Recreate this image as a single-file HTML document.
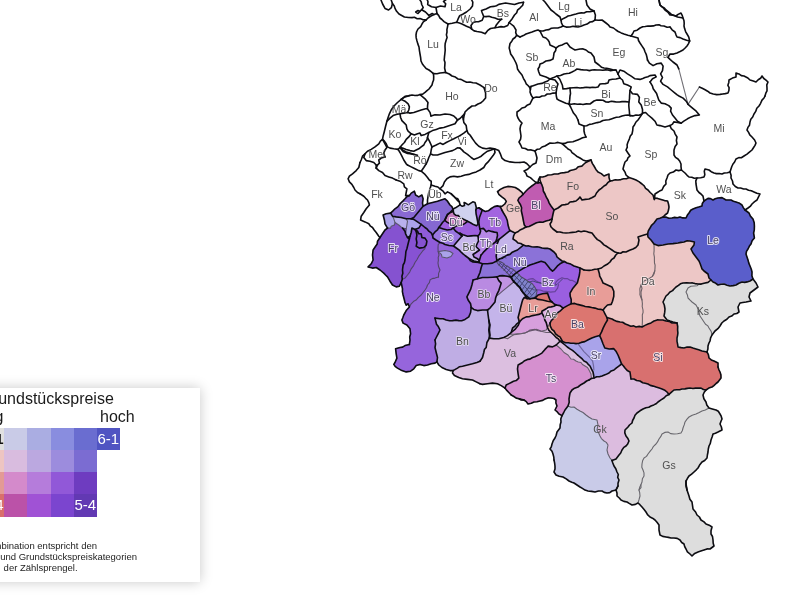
<!DOCTYPE html>
<html lang="de">
<head>
<meta charset="utf-8">
<title>Einkommen und Grundstückspreise</title>
<style>
html,body{margin:0;padding:0;background:#fff;}
body{width:800px;height:600px;overflow:hidden;position:relative;font-family:"Liberation Sans",Arial,sans-serif;}
#map{position:absolute;left:0;top:0;width:800px;height:600px;overflow:hidden;filter:blur(0.4px);}
#legend{position:absolute;left:-120px;top:388px;width:320px;height:194px;background:#fff;box-shadow:0 0 12px rgba(0,0,0,0.22);}
#legend .ttl{position:absolute;right:86.2px;top:0.7px;font-size:16px;line-height:20px;color:#1a1a1a;white-space:nowrap;}
#legend .lo{position:absolute;right:196.6px;top:19.4px;font-size:16px;line-height:20px;color:#1a1a1a;white-space:nowrap;}
#legend .hi{position:absolute;left:220px;top:19.4px;font-size:16px;line-height:20px;color:#1a1a1a;white-space:nowrap;}
#grid{position:absolute;left:101.3px;top:39.7px;}
#grid div{position:absolute;width:23.3px;height:22.4px;}
#grid span{position:absolute;font-size:15px;line-height:22px;width:23.1px;text-align:center;white-space:nowrap;}
#legend .note{position:absolute;left:0;top:150px;width:320px;font-size:9.5px;line-height:11.3px;color:#1c1c1c;white-space:nowrap;}
#legend .note div{position:absolute;white-space:nowrap;}
</style>
</head>
<body>
<div id="map">
<svg width="800" height="600" viewBox="0 0 800 600" style="position:absolute;left:0;top:0">
<g stroke-linejoin="round" stroke-width="0.6">
<path d="M663.0,217.0 659.9,218.3 657.0,219.0 654.0,223.0 651.5,225.3 650.0,228.0 648.3,230.9 647.6,234.0 648.0,237.0 651.0,240.0 654.0,244.0 658.0,245.6 663.0,245.0 668.0,244.0 673.0,243.6 678.0,243.0 681.0,242.4 684.0,242.0 687.1,240.8 690.0,241.0 694.4,242.0 694.0,245.0 691.0,249.0 693.0,253.0 696.0,257.0 699.0,261.0 700.1,263.5 701.0,266.0 702.0,268.9 704.0,271.0 708.0,274.0 709.0,278.0 711.0,280.0 713.0,282.0 715.5,283.1 718.0,285.0 720.9,284.2 724.0,284.0 727.1,285.2 730.0,286.0 733.2,285.6 736.0,285.0 738.9,283.2 742.0,282.0 744.6,282.4 747.1,281.9 750.0,281.0 753.0,279.0 751.9,275.8 752.0,272.0 751.3,269.2 750.0,266.0 748.8,263.1 748.0,260.0 746.9,256.7 746.0,254.0 746.5,251.4 748.0,249.0 749.4,246.1 751.0,244.0 752.1,240.7 754.4,238.0 753.6,233.0 754.3,229.8 754.4,226.0 754.2,222.7 753.0,219.0 750.4,216.1 749.0,213.0 745.0,210.0 743.3,207.6 742.0,205.0 738.9,202.9 736.0,202.0 733.4,201.2 731.0,200.0 726.0,200.0 722.0,197.6 718.0,198.0 715.2,198.8 713.0,200.0 710.5,198.6 708.0,198.4 704.0,201.0 702.3,203.5 702.0,206.0 698.7,207.0 696.1,207.7 693.0,209.0 690.7,210.3 689.0,213.0 687.4,215.1 686.0,218.0 682.8,217.9 680.0,217.0 677.3,217.8 674.6,217.4 672.0,218.0 668.9,218.3 665.8,217.1 663.0,217.0Z" fill="#5a5ecb" stroke="#5a5ecb" fill-rule="evenodd"/>
<path d="M707.0,352.0 702.0,351.0 698.7,349.8 696.0,349.0 692.9,348.1 690.0,347.0 687.1,347.1 684.0,348.0 681.2,347.6 678.0,347.0 677.6,344.1 677.0,341.3 677.0,338.0 677.6,335.3 677.9,333.0 677.6,330.0 677.7,326.5 677.0,323.0 672.0,323.0 669.1,321.4 666.0,321.0 662.9,320.0 660.0,320.0 657.2,319.9 654.0,321.0 651.0,322.9 648.0,324.0 645.0,325.4 642.0,327.0 639.2,326.4 636.0,327.0 633.7,325.9 630.8,326.2 628.0,325.0 625.4,324.0 622.6,322.3 620.0,322.0 617.0,321.4 614.2,320.3 612.0,319.0 606.9,317.5 607.5,320.0 605.2,323.8 603.1,328.1 601.6,331.9 599.6,335.6 601.4,339.4 603.0,343.8 604.8,348.0 609.2,349.0 613.6,348.6 616.2,351.6 618.0,355.0 619.8,359.4 621.6,364.0 623.3,365.7 625.0,368.0 627.2,370.5 630.0,372.0 630.5,375.6 631.0,379.0 633.9,379.0 636.7,380.5 640.0,381.0 642.7,382.7 645.2,383.3 648.0,384.0 650.3,385.4 653.2,386.1 656.0,387.0 659.3,388.1 662.0,389.0 664.9,390.3 667.0,392.0 669.0,394.4 671.5,392.1 674.0,390.0 676.7,389.7 679.7,389.7 682.0,389.0 684.9,388.9 687.3,388.4 690.0,388.0 693.0,388.5 695.4,388.1 698.0,388.0 701.1,388.1 703.4,389.5 706.0,390.0 708.8,388.1 712.0,387.0 713.9,385.6 716.1,383.5 718.0,382.0 721.0,378.0 720.9,374.8 720.0,372.0 719.0,370.0 718.0,367.0 718.0,363.0 714.0,361.0 711.3,359.9 709.0,358.0 708.4,354.6 707.0,352.0Z" fill="#d8706f" stroke="#d8706f" fill-rule="evenodd"/>
<path d="M563.1,308.1 560.0,311.2 557.8,312.6 556.2,315.0 553.1,318.8 551.3,320.5 550.0,323.1 550.3,326.2 551.9,329.4 554.0,331.0 555.6,333.8 557.8,335.7 560.0,336.9 562.5,341.5 565.5,342.8 568.4,342.8 570.8,343.2 573.6,343.2 576.0,343.6 579.0,343.3 581.2,342.4 584.8,341.6 588.2,339.8 591.8,338.0 595.2,336.8 599.6,335.6 601.6,331.9 603.1,328.1 605.2,323.8 607.5,320.0 606.9,317.5 605.0,313.8 603.1,310.0 601.2,309.4 598.3,309.3 595.0,308.1 591.7,307.5 588.8,306.9 585.2,306.5 582.5,305.6 577.5,304.4 574.7,303.4 571.2,303.8 567.5,305.6 563.1,308.1Z" fill="#dc7670" stroke="#dc7670" fill-rule="evenodd"/>
<path d="M584.0,270.0 580.0,268.0 579.8,271.9 579.4,275.0 578.1,280.0 577.4,282.7 575.6,285.0 572.5,288.8 570.0,293.1 570.2,296.2 571.2,299.4 571.2,303.8 574.7,303.4 577.5,304.4 582.5,305.6 585.2,306.5 588.8,306.9 591.7,307.5 595.0,308.1 598.3,309.3 601.2,309.4 603.1,310.0 605.0,307.5 607.5,305.0 611.2,304.4 612.5,301.2 613.8,296.2 613.8,291.2 611.9,286.9 607.5,285.0 603.1,283.1 601.2,278.8 599.7,276.2 599.4,273.8 598.0,269.0 594.8,269.3 592.0,270.0 589.2,270.4 586.6,270.2 584.0,270.0Z" fill="#e89d98" stroke="#e89d98" fill-rule="evenodd"/>
<path d="M654.5,198.1 654.4,199.4 654.0,198.0 653.0,195.0 650.2,192.5 648.0,190.0 645.6,188.3 644.2,185.8 642.0,184.0 638.9,181.6 636.0,180.0 632.8,178.7 629.0,177.6 626.5,178.7 623.6,178.7 620.9,179.6 618.0,180.0 615.4,179.7 612.6,180.6 610.0,181.0 608.1,182.3 606.2,184.7 604.0,186.0 601.4,188.4 599.0,190.0 596.5,193.0 595.0,196.0 591.8,197.7 589.0,199.0 585.3,199.4 582.0,200.0 580.0,197.0 578.2,199.2 576.0,201.0 573.1,201.6 570.0,202.0 568.0,204.0 565.1,204.6 562.0,205.0 558.0,208.0 554.0,210.0 553.0,214.0 552.0,219.0 551.5,221.8 550.0,224.0 550.9,226.8 553.0,229.0 557.0,232.0 560.0,232.0 563.0,232.8 566.0,233.0 569.3,232.8 572.5,232.4 576.0,232.0 578.4,231.1 581.1,231.8 584.0,231.0 586.7,231.5 589.3,232.4 592.0,233.0 595.0,237.0 597.4,239.6 600.0,241.0 601.8,242.6 603.9,244.9 606.0,246.0 609.2,248.1 612.0,250.0 615.0,252.1 618.0,253.0 620.7,253.2 623.0,251.8 626.0,252.0 629.6,250.2 633.0,249.0 635.8,247.5 638.0,245.0 639.0,240.0 638.0,237.0 640.9,235.9 644.0,235.0 647.6,234.0 648.3,230.9 650.0,228.0 651.5,225.3 654.0,223.0 657.0,219.0 659.9,218.3 663.0,217.0 665.0,215.0 667.6,213.0 668.5,210.1 669.0,207.0 668.5,204.0 667.6,201.0 664.5,200.6 661.0,199.4 657.6,198.4 654.5,198.1Z" fill="#edc7c6" stroke="#edc7c6" fill-rule="evenodd"/>
<path d="M591.0,160.0 588.3,161.3 585.9,162.4 584.0,164.0 581.8,166.1 578.4,166.7 576.0,169.0 573.5,169.8 570.3,170.5 568.0,172.0 564.4,172.6 560.9,173.0 558.0,174.0 554.3,174.0 551.6,174.8 548.0,175.0 545.4,176.3 542.8,177.0 540.0,177.0 539.9,180.0 541.0,183.0 542.0,185.2 543.0,188.0 543.3,191.0 545.0,194.0 546.3,197.2 548.0,200.0 549.2,203.1 551.0,206.0 554.0,210.0 558.0,208.0 562.0,205.0 565.1,204.6 568.0,204.0 570.0,202.0 573.1,201.6 576.0,201.0 578.2,199.2 580.0,197.0 582.0,200.0 585.3,199.4 589.0,199.0 591.8,197.7 595.0,196.0 596.5,193.0 599.0,190.0 601.4,188.4 604.0,186.0 606.2,184.7 608.1,182.3 610.0,181.0 609.0,177.5 609.0,174.0 606.3,175.0 604.0,176.0 601.3,173.6 598.0,172.0 595.9,169.4 594.0,166.0 592.3,163.4 591.0,160.0Z" fill="#edc7c6" stroke="#edc7c6" fill-rule="evenodd"/>
<path d="M552.0,219.0 549.0,220.3 546.0,221.0 542.8,222.2 540.0,222.0 536.5,222.7 534.0,224.0 531.6,225.2 529.1,226.5 526.0,227.0 522.8,228.8 520.0,230.0 517.8,231.8 515.0,233.0 513.6,235.8 513.0,239.0 515.9,240.9 518.0,243.0 520.8,243.5 523.4,245.1 526.0,246.0 528.8,245.9 531.6,246.7 534.0,247.0 537.1,246.7 539.6,247.2 542.0,248.0 544.9,248.4 547.3,248.2 550.0,249.0 554.0,252.0 556.1,254.4 557.0,257.0 559.3,258.9 562.0,261.0 564.4,261.5 567.0,263.0 570.7,264.1 574.0,266.0 577.2,267.0 580.0,268.0 584.0,270.0 586.6,270.2 589.2,270.4 592.0,270.0 594.8,269.3 598.0,269.0 601.5,268.0 604.0,266.0 607.2,264.3 610.0,262.0 611.5,259.7 614.0,258.0 615.8,255.0 618.0,253.0 615.0,252.1 612.0,250.0 609.2,248.1 606.0,246.0 603.9,244.9 601.8,242.6 600.0,241.0 597.4,239.6 595.0,237.0 592.0,233.0 589.3,232.4 586.7,231.5 584.0,231.0 581.1,231.8 578.4,231.1 576.0,232.0 572.5,232.4 569.3,232.8 566.0,233.0 563.0,232.8 560.0,232.0 557.0,232.0 553.0,229.0 550.9,226.8 550.0,224.0 551.5,221.8 552.0,219.0Z" fill="#edc7c6" stroke="#edc7c6" fill-rule="evenodd"/>
<path d="M515.0,233.0 517.8,231.8 520.0,230.0 522.8,228.8 526.0,227.0 524.3,225.0 523.5,221.3 522.8,217.5 522.0,213.8 521.3,210.8 521.6,207.8 520.5,204.8 519.0,202.5 517.9,200.3 519.0,198.0 521.3,196.1 523.1,194.3 522.0,192.4 519.0,189.8 515.3,187.5 511.5,186.8 507.8,186.4 504.0,187.5 500.3,189.4 497.6,191.6 498.8,194.3 501.8,196.9 504.8,199.1 506.3,201.4 504.8,204.0 502.5,205.9 500.3,206.6 501.8,210.0 503.5,213.0 505.8,216.8 507.3,220.5 508.0,225.0 509.1,228.8 509.9,230.6 512.5,231.8 515.0,233.0Z" fill="#edc7c6" stroke="#edc7c6" fill-rule="evenodd"/>
<path d="M647.6,234.0 644.0,235.0 640.9,235.9 638.0,237.0 639.0,240.0 638.0,245.0 635.8,247.5 633.0,249.0 629.6,250.2 626.0,252.0 623.0,251.8 620.7,253.2 618.0,253.0 615.8,255.0 614.0,258.0 611.5,259.7 610.0,262.0 607.2,264.3 604.0,266.0 601.5,268.0 598.0,269.0 599.4,273.8 599.7,276.2 601.2,278.8 603.1,283.1 607.5,285.0 611.9,286.9 613.8,291.2 613.8,296.2 612.5,301.2 611.2,304.4 607.5,305.0 605.0,307.5 603.1,310.0 605.0,313.8 606.9,317.5 612.0,319.0 614.2,320.3 617.0,321.4 620.0,322.0 622.6,322.3 625.4,324.0 628.0,325.0 630.8,326.2 633.7,325.9 636.0,327.0 639.2,326.4 642.0,327.0 642.3,323.9 642.4,321.3 642.4,318.0 642.3,315.0 643.1,312.4 643.0,310.0 642.2,306.5 642.4,303.6 642.0,300.0 640.9,297.6 639.9,294.6 640.0,292.0 639.8,288.8 641.0,285.0 644.0,281.0 647.1,279.8 650.0,278.0 652.4,276.4 654.8,270.8 655.0,268.0 655.1,265.2 654.5,263.0 654.4,260.0 654.4,257.2 653.8,253.8 654.1,250.9 654.1,248.0 654.0,244.0 651.0,240.0 648.0,237.0 647.6,234.0Z" fill="#edc7c6" stroke="#edc7c6" fill-rule="evenodd"/>
<path d="M711.0,280.0 709.0,278.0 708.0,274.0 704.0,271.0 702.0,268.9 701.0,266.0 700.1,263.5 699.0,261.0 696.0,257.0 693.0,253.0 691.0,249.0 694.0,245.0 694.4,242.0 690.0,241.0 687.1,240.8 684.0,242.0 681.0,242.4 678.0,243.0 673.0,243.6 668.0,244.0 663.0,245.0 658.0,245.6 654.0,244.0 654.1,248.0 654.1,250.9 653.8,253.8 654.4,257.2 654.4,260.0 654.5,263.0 655.1,265.2 655.0,268.0 654.8,270.8 654.0,274.0 652.4,276.4 650.0,278.0 647.1,279.8 644.0,281.0 641.0,285.0 642.0,288.3 641.0,292.0 641.1,294.8 641.5,297.3 642.0,300.0 642.4,303.6 642.2,306.5 643.0,310.0 643.1,312.4 642.3,315.0 642.4,318.0 642.4,321.3 642.3,323.9 642.0,327.0 645.0,325.4 648.0,324.0 651.0,322.9 654.0,321.0 657.2,319.9 660.0,320.0 662.9,320.0 666.0,321.0 669.1,321.4 672.0,323.0 677.0,323.0 673.0,322.0 670.0,321.1 667.0,320.0 664.0,316.0 664.7,312.4 665.0,309.0 664.3,305.0 663.0,302.0 664.5,299.0 666.0,296.0 668.2,294.1 670.0,292.0 672.6,290.6 674.0,289.0 676.0,287.0 678.5,285.4 680.4,283.8 683.0,283.0 686.7,282.7 690.0,283.0 692.5,282.9 695.0,283.6 698.0,284.0 701.1,284.1 704.0,283.2 708.0,282.4 711.0,280.0Z" fill="#edc7c6" stroke="#edc7c6" fill-rule="evenodd"/>
<path d="M538.0,183.0 536.7,182.5 534.8,183.8 531.8,186.0 528.8,188.3 525.8,191.3 523.1,194.3 521.3,196.1 519.0,198.0 517.9,200.3 519.0,202.5 520.5,204.8 521.6,207.8 521.3,210.8 522.0,213.8 522.8,217.5 523.5,221.3 524.3,225.0 526.0,227.0 529.1,226.5 531.6,225.2 534.0,224.0 536.5,222.7 540.0,222.0 542.8,222.2 546.0,221.0 549.0,220.3 552.0,219.0 553.0,214.0 554.0,210.0 551.0,206.0 549.2,203.1 548.0,200.0 546.3,197.2 545.0,194.0 543.3,191.0 543.0,188.0 542.0,185.2 541.0,183.0 538.1,182.5 538.0,183.0Z" fill="#c05cb1" stroke="#c05cb1" fill-rule="evenodd"/>
<path d="M753.0,279.0 750.0,281.0 747.1,281.9 744.6,282.4 742.0,282.0 738.9,283.2 736.0,285.0 733.2,285.6 730.0,286.0 727.1,285.2 724.0,284.0 720.9,284.2 718.0,285.0 715.5,283.1 713.0,282.0 711.0,280.0 708.0,282.4 704.0,283.2 701.1,284.1 699.0,284.2 697.2,285.7 694.0,286.0 690.9,286.3 688.0,288.0 686.0,292.0 687.4,294.9 688.0,298.0 690.1,300.2 692.0,302.0 696.0,305.0 697.4,307.6 699.0,310.0 699.1,312.9 700.0,316.0 702.2,319.2 704.0,322.0 705.5,324.3 707.9,325.9 709.0,328.0 711.2,331.4 712.0,335.0 715.0,331.0 717.9,328.7 720.0,326.0 721.8,323.0 724.0,321.0 726.9,319.3 729.0,317.0 731.7,316.1 734.0,314.0 736.8,313.5 739.0,312.0 738.0,307.0 740.0,303.0 742.8,302.5 746.0,302.0 751.0,301.0 749.0,297.0 750.0,293.0 754.0,290.0 758.0,287.0 756.0,283.0 753.0,279.0Z" fill="#dddddd" stroke="#dddddd" fill-rule="evenodd"/>
<path d="M753.0,279.0 750.0,281.0 747.1,281.9 744.6,282.4 742.0,282.0 738.9,283.2 736.0,285.0 733.2,285.6 730.0,286.0 727.1,285.2 724.0,284.0 720.9,284.2 718.0,285.0 715.5,283.1 713.0,282.0 711.0,280.0 708.0,282.4 704.0,283.2 701.1,284.1 699.0,284.2 697.2,285.7 694.0,286.0 690.9,286.3 688.0,288.0 686.0,292.0 687.4,294.9 688.0,298.0 690.1,300.2 692.0,302.0 696.0,305.0 697.4,307.6 699.0,310.0 699.1,312.9 700.0,316.0 702.2,319.2 704.0,322.0 705.5,324.3 707.9,325.9 709.0,328.0 711.2,331.4 712.0,335.0 715.0,331.0 717.9,328.7 720.0,326.0 721.8,323.0 724.0,321.0 726.9,319.3 729.0,317.0 731.7,316.1 734.0,314.0 736.8,313.5 739.0,312.0 738.0,307.0 740.0,303.0 742.8,302.5 746.0,302.0 751.0,301.0 749.0,297.0 750.0,293.0 754.0,290.0 758.0,287.0 756.0,283.0 753.0,279.0Z" fill="#dddddd" stroke="#dddddd" fill-rule="evenodd"/>
<path d="M686.0,481.0 687.5,478.3 689.0,476.0 691.6,474.2 694.0,472.0 696.3,469.8 698.0,468.0 699.6,465.1 702.0,462.0 704.7,460.5 707.0,458.0 707.4,455.0 708.0,452.0 708.3,449.0 709.0,446.0 710.3,443.4 711.0,440.0 712.2,436.8 713.0,434.0 715.4,433.2 718.0,432.0 722.0,430.0 721.4,427.0 720.0,424.0 720.9,421.5 722.0,419.0 721.2,416.2 720.0,414.0 718.3,411.3 716.0,410.0 712.3,408.9 709.0,408.0 705.3,410.0 702.0,411.0 699.2,412.5 696.0,414.0 692.2,415.2 689.0,417.0 687.0,419.1 685.0,422.0 684.2,424.9 683.0,428.0 682.4,430.5 681.0,433.0 677.5,433.8 674.0,434.0 670.7,433.6 668.0,432.0 664.8,432.4 662.0,434.0 660.7,436.7 659.0,439.0 657.5,441.9 656.0,444.0 653.5,446.3 652.0,449.0 650.2,451.2 648.0,454.0 646.5,456.4 644.0,458.0 642.6,460.8 642.0,464.0 641.8,467.2 643.0,470.0 644.0,472.9 644.0,476.0 642.4,478.7 642.0,482.0 640.9,484.7 641.0,487.6 639.0,490.0 639.7,492.7 640.0,496.0 639.0,499.7 638.0,503.0 639.9,504.7 642.0,507.0 644.1,509.5 646.0,512.0 647.5,514.6 650.0,517.0 652.5,518.2 655.0,520.0 657.0,522.3 659.0,525.0 659.0,530.0 660.0,535.0 662.7,536.4 666.0,537.0 668.4,537.4 671.0,538.0 674.0,538.0 677.2,538.4 680.0,540.0 681.7,542.5 684.0,544.0 684.7,546.6 686.0,549.0 687.4,551.8 690.0,554.0 692.0,556.0 694.7,553.4 698.0,552.0 700.8,551.1 704.0,550.0 707.0,548.9 710.0,549.0 714.0,546.0 713.2,543.3 713.0,540.0 712.5,536.5 711.0,534.0 711.0,530.8 712.0,527.0 709.2,525.2 706.0,524.0 704.0,521.9 701.0,520.0 699.4,517.0 697.0,515.0 695.6,512.0 693.0,509.0 692.5,505.3 692.0,502.0 689.9,499.2 689.0,496.0 688.0,492.9 687.0,490.0 686.0,486.0 686.0,484.0 686.0,481.0Z" fill="#dddddd" stroke="#dddddd" fill-rule="evenodd"/>
<path d="M706.0,390.0 703.4,389.5 701.1,388.1 698.0,388.0 695.4,388.1 693.0,388.5 690.0,388.0 687.3,388.4 684.9,388.9 682.0,389.0 679.7,389.7 676.7,389.7 674.0,390.0 671.5,392.1 669.0,394.4 666.2,395.7 664.0,398.0 661.0,399.9 658.0,402.0 656.0,403.8 653.8,404.9 651.0,406.0 648.8,407.3 645.9,407.8 643.0,409.0 640.0,410.8 637.0,413.0 635.0,415.3 634.0,418.0 632.6,420.5 632.0,423.0 629.5,425.0 628.0,427.0 625.0,430.0 624.8,432.9 626.0,436.0 627.7,438.2 629.0,441.0 627.7,443.9 626.0,446.0 623.8,447.4 622.0,450.0 620.7,453.0 619.0,455.0 616.0,459.0 612.0,460.4 612.8,463.0 614.0,466.0 615.8,468.8 617.0,472.0 618.3,474.5 617.7,477.4 619.0,480.0 618.0,483.2 618.0,486.0 616.0,490.0 617.0,493.1 617.0,496.0 619.3,498.0 621.0,500.0 623.9,501.4 627.0,502.0 629.2,503.4 632.0,505.0 635.4,504.4 638.0,503.0 639.0,499.7 640.0,496.0 639.7,492.7 639.0,490.0 639.7,487.3 640.9,484.7 642.0,482.0 642.4,478.7 644.0,476.0 644.0,472.9 643.0,470.0 641.8,467.2 642.0,464.0 642.6,460.8 644.0,458.0 646.5,456.4 648.0,454.0 650.2,451.2 652.0,449.0 653.5,446.3 656.0,444.0 657.5,441.9 659.0,439.0 660.7,436.7 662.0,434.0 664.8,432.4 668.0,432.0 670.7,433.6 674.0,434.0 677.5,433.8 681.0,433.0 682.4,430.5 683.0,428.0 684.2,424.9 685.0,422.0 687.0,419.1 689.0,417.0 692.2,415.2 696.0,414.0 699.2,412.5 702.0,411.0 705.3,410.0 709.0,408.0 706.8,405.0 706.0,402.0 703.9,398.8 703.0,395.0 704.2,392.3 706.0,390.0Z" fill="#dddddd" stroke="#dddddd" fill-rule="evenodd"/>
<path d="M631.0,379.0 630.5,375.6 630.0,372.0 627.2,370.5 625.0,368.0 623.3,365.7 621.6,364.0 618.5,366.3 616.1,368.1 614.0,370.0 611.2,370.9 609.0,373.0 605.6,374.6 602.0,376.0 599.3,376.8 596.7,376.8 594.0,378.0 591.4,378.5 589.0,380.0 586.6,381.0 584.0,383.0 580.9,384.7 578.0,387.0 574.6,388.2 572.0,390.0 570.0,393.0 569.5,395.9 569.0,399.0 569.2,402.3 568.0,406.0 570.9,407.2 574.0,407.0 577.0,409.3 580.0,411.0 583.0,412.5 586.0,415.0 588.7,417.0 592.0,419.0 597.0,420.0 598.0,425.0 597.0,430.0 598.8,433.2 600.0,436.0 601.4,438.6 604.0,441.0 606.3,442.4 608.0,445.0 607.0,450.0 608.0,454.0 610.0,458.0 612.0,460.4 616.0,459.0 619.0,455.0 620.7,453.0 622.0,450.0 623.8,447.4 626.0,446.0 627.7,443.9 629.0,441.0 627.7,438.2 626.0,436.0 624.8,432.9 625.0,430.0 628.0,427.0 629.5,425.0 632.0,423.0 632.6,420.5 634.0,418.0 635.0,415.3 637.0,413.0 640.0,410.8 643.0,409.0 645.9,407.8 648.8,407.3 651.0,406.0 653.8,404.9 656.0,403.8 658.0,402.0 661.0,399.9 664.0,398.0 666.2,395.7 669.0,394.4 667.0,392.0 664.9,390.3 662.0,389.0 659.3,388.1 656.0,387.0 653.2,386.1 650.3,385.4 648.0,384.0 645.2,383.3 642.7,382.7 640.0,381.0 636.7,380.5 633.9,379.0 631.0,379.0Z" fill="#dcbcdf" stroke="#dcbcdf" fill-rule="evenodd"/>
<path d="M618.0,486.0 618.0,483.2 619.0,480.0 617.7,477.4 618.3,474.5 617.0,472.0 615.8,468.8 614.0,466.0 612.8,463.0 612.0,460.4 610.0,458.0 608.0,454.0 607.0,450.0 608.0,445.0 606.3,442.4 604.0,441.0 601.4,438.6 600.0,436.0 598.8,433.2 597.0,430.0 598.0,425.0 597.0,420.0 592.0,419.0 588.7,417.0 586.0,415.0 583.0,412.5 580.0,411.0 577.0,409.3 574.0,407.0 570.9,407.2 568.0,406.0 565.0,410.0 563.5,413.0 562.0,415.6 560.8,419.0 561.0,422.0 560.2,424.8 560.0,428.0 557.0,432.0 556.2,435.2 555.0,438.0 553.3,440.5 552.0,444.0 551.3,446.9 550.0,449.0 552.0,451.3 553.0,454.0 553.8,457.1 554.0,460.0 554.6,462.8 555.0,466.0 555.0,468.9 554.0,472.0 556.0,475.0 559.2,476.3 563.0,477.0 566.2,478.9 569.0,481.0 571.8,482.2 574.0,483.0 577.0,485.0 580.0,487.0 582.4,488.4 585.0,490.1 588.0,491.0 591.6,491.4 595.0,492.0 598.5,491.0 602.0,491.0 604.2,492.4 607.0,493.0 609.8,492.6 612.0,491.0 616.0,490.0 618.0,486.0Z" fill="#c9cbe8" stroke="#c9cbe8" fill-rule="evenodd"/>
<path d="M519.1,398.8 524.0,400.0 526.3,401.6 528.0,404.0 531.3,403.3 534.0,402.0 537.0,401.8 540.0,401.0 542.7,400.4 545.0,399.0 547.9,397.9 551.0,398.0 554.0,398.5 556.0,400.0 555.9,403.0 557.0,406.0 555.0,410.0 557.3,411.9 559.0,414.0 562.0,415.6 563.5,413.0 565.0,410.0 568.0,406.0 569.2,402.3 569.0,399.0 569.5,395.9 570.0,393.0 572.0,390.0 574.6,388.2 578.0,387.0 580.9,384.7 584.0,383.0 586.6,381.0 589.0,380.0 591.4,378.5 591.0,374.0 589.0,370.0 587.5,367.5 585.0,366.0 582.5,364.5 581.0,362.5 578.2,362.0 576.0,361.0 573.5,359.3 571.0,359.0 568.0,355.0 564.0,352.5 561.0,349.0 556.2,345.0 552.5,346.9 550.2,346.5 548.1,346.2 545.0,349.4 541.9,353.1 537.5,355.6 534.9,356.7 532.5,357.5 530.0,359.1 527.5,359.4 524.6,360.7 522.5,362.5 518.1,365.0 517.5,368.8 518.1,373.8 518.8,378.1 516.2,380.6 513.5,381.3 511.2,382.5 509.0,383.6 506.2,385.0 505.0,388.1 506.8,390.4 508.8,392.5 511.2,395.0 513.9,396.5 516.2,398.1 519.1,398.8Z" fill="#d590cf" stroke="#d590cf" fill-rule="evenodd"/>
<path d="M560.0,341.2 558.3,338.9 556.2,337.5 553.9,335.0 551.2,332.5 546.2,332.5 541.2,331.2 538.2,330.7 535.5,329.6 531.2,330.6 528.9,331.3 526.2,332.5 526.0,332.6 525.0,333.1 522.6,333.4 521.2,333.8 516.2,334.4 513.9,334.8 511.2,336.2 507.5,338.8 503.8,337.5 498.8,338.8 493.8,338.8 489.4,338.1 486.9,342.5 486.2,347.5 484.4,349.6 483.8,352.5 482.5,357.5 480.0,361.3 476.9,362.5 472.5,363.8 467.5,365.0 462.5,366.2 459.6,366.7 457.5,368.1 453.1,370.6 452.5,373.1 454.4,375.6 458.8,377.5 462.5,378.8 467.5,379.4 472.5,380.0 476.2,381.9 480.0,383.8 482.5,384.4 487.5,383.8 492.5,383.1 497.5,383.8 501.2,385.6 505.0,388.1 506.2,385.0 509.0,383.6 511.2,382.5 513.5,381.3 516.2,380.6 518.8,378.1 518.1,373.8 517.5,368.8 518.1,365.0 522.5,362.5 524.6,360.7 527.5,359.4 530.0,359.1 532.5,357.5 534.9,356.7 537.5,355.6 541.9,353.1 545.0,349.4 548.1,346.2 550.2,346.5 552.5,346.9 556.2,345.0 560.0,341.2Z" fill="#dcbfe0" stroke="#dcbfe0" fill-rule="evenodd"/>
<path d="M435.0,318.1 436.5,324.2 438.1,326.2 440.0,330.0 438.1,333.8 436.2,337.5 435.0,340.0 435.6,343.8 435.0,347.5 436.2,352.5 437.5,357.5 436.9,361.9 438.8,365.0 441.9,367.5 446.2,369.4 450.0,370.6 453.1,370.6 457.5,368.1 459.6,366.7 462.5,366.2 467.5,365.0 472.5,363.8 476.9,362.5 480.0,361.3 482.5,357.5 483.8,352.5 484.4,349.6 486.2,347.5 486.9,342.5 489.4,338.1 489.4,335.0 488.8,330.0 489.4,325.0 488.8,320.0 488.1,315.0 487.5,310.0 482.5,310.0 477.5,310.6 473.8,309.4 471.2,307.5 470.6,312.5 468.8,316.9 465.0,319.4 461.7,320.7 458.8,320.6 455.9,320.1 452.5,320.6 449.6,320.7 446.2,320.0 443.1,318.8 440.0,318.8 435.0,318.1Z" fill="#bfade4" stroke="#bfade4" fill-rule="evenodd"/>
<path d="M524.4,297.5 527.0,298.6 525.0,295.0 523.7,293.4 523.3,293.0 521.2,290.0 519.7,287.4 519.6,287.3 517.6,285.7 516.6,284.3 513.8,281.9 510.0,285.0 506.2,288.1 502.5,291.2 499.4,293.8 496.3,296.1 495.6,298.1 495.0,301.9 492.5,305.0 490.0,308.1 487.5,310.0 488.1,315.0 488.8,320.0 490.0,325.0 489.4,330.0 490.0,335.0 489.4,338.1 493.8,338.8 498.8,338.8 503.8,337.5 507.5,335.6 509.3,334.1 511.2,332.5 512.6,328.0 515.0,326.2 516.8,323.8 519.4,321.9 518.1,317.5 519.4,312.5 520.6,307.5 521.9,302.5 522.8,299.6 524.4,297.5Z" fill="#c4b4ea" stroke="#c4b4ea" fill-rule="evenodd"/>
<path d="M477.5,278.8 473.1,280.0 471.9,285.0 470.6,289.4 468.8,293.1 466.9,296.9 468.1,300.0 470.6,303.8 471.2,307.5 473.8,309.4 477.5,310.6 482.5,310.0 487.5,310.0 490.0,308.1 492.5,305.0 495.0,301.9 495.6,298.1 496.3,296.1 496.9,294.4 498.8,290.6 500.0,286.9 501.2,283.1 498.8,280.6 496.9,276.9 492.5,277.2 487.5,277.5 482.5,277.5 477.5,278.8Z" fill="#b98ae2" stroke="#b98ae2" fill-rule="evenodd"/>
<path d="M438.5,277.0 435.0,278.1 432.1,278.6 430.0,280.0 429.4,282.6 427.5,285.0 426.5,287.8 425.0,290.0 423.1,292.5 421.2,295.0 418.4,297.3 416.2,300.0 413.7,301.3 411.2,303.8 409.4,306.9 406.2,310.6 403.8,315.0 402.9,317.5 401.9,320.0 403.1,323.1 406.9,325.0 410.0,328.8 410.6,333.8 409.7,337.0 410.0,340.0 409.4,344.4 405.0,345.6 402.6,347.1 400.0,347.5 395.6,348.8 396.2,353.8 396.9,358.1 395.0,362.5 393.8,364.4 395.1,366.3 397.5,368.1 401.9,370.6 406.2,371.9 410.6,371.2 413.8,368.8 416.2,365.6 420.0,364.4 423.8,365.6 427.5,365.0 431.2,363.8 435.0,363.1 436.9,361.9 437.5,357.5 436.2,352.5 435.0,347.5 435.6,343.8 435.0,340.0 436.2,337.5 438.1,333.8 440.0,330.0 438.1,326.2 436.5,324.2 435.0,318.1 440.0,318.8 443.1,318.8 446.2,320.0 449.6,320.7 452.5,320.6 455.9,320.1 458.8,320.6 461.7,320.7 465.0,319.4 468.8,316.9 470.6,312.5 471.2,307.5 470.6,303.8 468.1,300.0 466.9,296.9 468.8,293.1 470.6,289.4 471.9,285.0 473.1,280.0 477.5,278.8 478.1,276.9 480.0,272.5 481.2,267.5 482.5,263.8 478.8,262.5 475.5,262.1 472.5,261.9 470.2,260.5 469.0,258.5 465.0,255.5 463.0,253.9 461.0,252.0 459.3,250.1 457.0,248.5 453.5,246.0 449.0,245.5 445.0,244.5 442.9,243.3 440.0,242.5 438.2,244.7 438.0,248.0 438.2,251.6 439.0,255.0 438.2,257.5 438.4,260.2 438.0,263.0 438.6,266.8 440.0,270.0 438.6,273.4 438.5,277.0ZM438.2,251.6 445.0,250.5 450.0,251.5 453.0,253.5 451.0,256.5 447.0,258.0 442.0,257.0 441.4,254.3 438.2,251.6Z" fill="#9665dc" stroke="#9665dc" fill-rule="evenodd"/>
<path d="M395.0,222.5 394.4,225.0 391.2,226.2 390.6,228.1 387.5,228.1 385.0,230.0 382.5,233.8 380.1,237.4 380.0,237.5 379.9,237.6 377.5,241.2 377.2,244.1 375.6,246.2 373.1,250.0 372.5,255.0 373.1,260.0 371.2,263.8 368.1,266.9 372.5,268.1 376.2,267.5 380.0,270.0 383.8,273.1 385.8,275.2 387.5,276.9 390.0,281.2 392.5,285.0 396.2,286.9 399.4,286.2 401.3,282.5 402.3,279.2 401.9,276.2 402.8,273.3 402.5,270.0 403.1,265.0 404.4,262.6 405.0,260.0 405.6,255.0 405.9,251.5 406.9,248.8 408.1,243.8 409.4,238.8 407.5,237.5 405.6,233.8 405.0,231.2 402.5,228.1 398.8,225.0 395.0,222.5Z" fill="#8552d0" stroke="#8552d0" fill-rule="evenodd"/>
<path d="M409.4,195.6 407.0,196.6 405.0,198.8 402.8,201.1 400.0,203.8 398.0,206.6 395.0,208.8 392.7,211.1 390.6,213.1 392.5,216.2 396.2,216.9 401.2,217.5 406.2,218.8 411.2,218.8 413.8,217.5 416.9,213.8 420.0,210.0 423.1,206.3 422.5,203.1 423.1,198.8 421.9,195.0 418.8,196.9 415.6,195.0 414.4,191.2 411.2,193.1 409.4,195.6Z" fill="#8969d3" stroke="#8969d3" fill-rule="evenodd"/>
<path d="M423.1,206.3 420.0,210.0 416.9,213.8 413.8,217.5 411.2,218.8 413.8,219.4 417.5,221.9 421.2,224.4 425.0,227.5 427.3,229.2 428.8,231.2 431.2,232.9 432.5,235.0 435.0,231.9 437.5,229.9 438.8,227.5 440.6,225.2 442.5,222.5 444.5,220.5 445.4,219.1 445.8,217.5 447.3,214.5 448.9,213.5 450.0,212.5 453.1,209.4 451.9,206.6 450.0,205.0 447.5,201.2 445.0,198.8 441.2,200.0 437.5,201.2 432.5,202.5 427.5,203.8 423.1,206.3Z" fill="#8568d2" stroke="#8568d2" fill-rule="evenodd"/>
<path d="M621.6,364.0 619.8,359.4 618.0,355.0 616.2,351.6 613.6,348.6 609.2,349.0 604.8,348.0 603.0,343.8 601.4,339.4 599.6,335.6 595.2,336.8 591.8,338.0 588.2,339.8 584.8,341.6 581.2,342.4 579.0,343.3 576.0,343.6 573.6,343.2 570.8,343.2 568.4,342.8 565.5,342.8 562.5,341.5 560.0,341.2 562.4,342.9 565.0,345.0 567.3,347.0 570.0,348.8 572.5,350.4 575.0,352.5 577.6,355.0 579.8,356.8 582.2,358.9 584.0,361.0 586.5,362.2 588.0,364.1 590.0,366.0 591.5,369.2 593.0,372.0 593.7,375.5 594.0,378.0 596.7,376.8 599.3,376.8 602.0,376.0 605.6,374.6 609.0,373.0 611.2,370.9 614.0,370.0 616.1,368.1 618.5,366.3 621.6,364.0Z" fill="#a9a3ea" stroke="#a9a3ea" fill-rule="evenodd"/>
<path d="M527.0,298.6 524.4,297.5 522.8,299.6 521.9,302.5 520.6,307.5 519.4,312.5 518.1,317.5 519.4,321.9 522.5,318.8 526.2,316.9 529.1,316.8 532.5,315.6 535.8,315.0 538.8,314.4 541.9,313.1 541.9,311.2 546.2,308.8 548.4,307.2 551.2,306.9 553.8,306.3 556.3,305.0 554.1,304.0 551.9,301.9 547.5,301.2 542.5,300.0 538.1,299.4 535.0,298.1 530.0,298.8 527.0,298.6Z" fill="#e89d98" stroke="#e89d98" fill-rule="evenodd"/>
<path d="M535.0,298.1 538.1,299.4 542.5,300.0 547.5,301.2 551.9,301.9 550.0,300.0 548.8,296.9 547.5,293.1 542.5,293.8 538.1,295.0 535.0,298.1Z" fill="#dc7670" stroke="#dc7670" fill-rule="evenodd"/>
<path d="M556.3,305.0 553.8,306.3 551.2,306.9 548.4,307.2 546.2,308.8 541.9,311.2 541.9,313.1 544.4,317.5 544.8,320.0 546.2,322.5 547.5,327.5 550.0,323.1 551.3,320.5 553.1,318.8 556.2,315.0 557.8,312.6 560.0,311.2 563.1,308.1 560.0,305.6 556.3,305.0Z" fill="#dcaee0" stroke="#dcaee0" fill-rule="evenodd"/>
<path d="M541.9,313.1 538.8,314.4 535.8,315.0 532.5,315.6 529.1,316.8 526.2,316.9 522.5,318.8 519.4,321.9 519.4,322.5 518.1,325.6 515.0,329.4 511.2,332.5 509.3,334.1 513.7,334.3 517.5,333.8 521.5,333.5 522.6,333.4 526.0,332.6 527.8,331.6 530.0,330.0 535.0,329.4 535.5,329.6 536.2,329.4 538.5,330.1 541.2,331.2 546.2,330.0 547.5,327.5 546.2,322.5 544.8,320.0 544.4,317.5 541.9,313.1Z" fill="#d79fdd" stroke="#d79fdd" fill-rule="evenodd"/>
<path d="M509.9,230.6 509.1,228.8 508.0,225.0 507.3,220.5 505.8,216.8 503.5,213.0 501.8,210.0 500.3,206.6 497.3,205.9 494.3,206.6 491.3,208.5 488.3,210.8 485.3,211.5 482.3,210.0 480.6,214.5 479.5,217.5 478.8,221.3 479.1,225.0 479.9,228.8 481.4,228.8 483.3,228.4 484.8,229.9 486.3,231.8 488.5,230.6 491.5,231.4 494.5,232.1 497.1,232.5 497.5,235.5 496.8,238.5 496.0,241.5 499.0,239.3 502.8,236.3 506.5,233.3 509.9,230.6Z" fill="#a264e0" stroke="#a264e0" fill-rule="evenodd"/>
<path d="M469.0,258.5 470.2,260.5 472.5,261.9 475.5,262.1 478.8,262.5 481.0,255.0 481.8,254.3 484.0,251.6 487.0,248.6 490.0,246.0 493.0,243.8 496.0,241.5 496.8,238.5 497.5,235.5 497.1,232.5 494.5,232.1 491.5,231.4 488.5,230.6 486.3,231.8 484.8,229.9 483.3,228.4 481.4,228.8 479.9,228.8 480.6,231.0 479.7,234.0 478.0,235.9 478.5,241.0 477.0,244.0 476.0,246.5 479.5,250.0 476.0,252.5 473.0,254.5 474.0,257.0 477.0,258.5 479.0,260.0 478.5,262.0 474.0,261.0 471.7,259.9 469.0,258.5Z" fill="#b688e6" stroke="#b688e6" fill-rule="evenodd"/>
<path d="M523.4,245.1 520.8,243.5 518.0,243.0 515.9,240.9 513.0,239.0 513.6,235.8 515.0,233.0 512.5,231.8 509.9,230.6 506.5,233.3 502.8,236.3 499.0,239.3 497.2,243.9 496.4,246.8 495.6,250.0 496.5,253.3 496.2,256.2 496.9,260.6 499.7,258.8 502.5,258.1 504.5,256.6 507.1,255.1 510.0,254.4 512.3,252.2 515.0,251.0 517.5,250.0 523.4,245.1Z" fill="#c4b4ea" stroke="#c4b4ea" fill-rule="evenodd"/>
<path d="M478.0,235.9 475.0,235.5 471.3,235.9 467.5,236.3 463.8,235.1 460.0,233.2 462.0,236.0 459.0,239.5 456.0,243.0 453.5,246.0 457.0,248.5 459.3,250.1 461.0,252.0 463.0,253.9 465.0,255.5 469.0,258.5 471.7,259.9 474.0,261.0 478.5,262.0 479.0,260.0 477.0,258.5 474.0,257.0 473.0,254.5 476.0,252.5 479.5,250.0 476.0,246.5 477.0,244.0 478.5,241.0 478.0,235.9Z" fill="#c8b8ec" stroke="#c8b8ec" fill-rule="evenodd"/>
<path d="M438.8,227.5 437.5,229.9 435.0,231.9 432.5,235.0 433.0,238.0 436.0,240.0 440.0,242.5 442.9,243.3 445.0,244.5 449.0,245.5 453.5,246.0 456.0,243.0 459.0,239.5 462.0,236.0 458.5,233.2 455.5,231.0 453.2,228.0 451.0,229.5 447.2,230.0 443.5,229.0 438.8,227.5Z" fill="#9a78e0" stroke="#9a78e0" fill-rule="evenodd"/>
<path d="M448.9,213.5 447.6,214.6 446.2,217.5 445.4,219.1 445.0,220.5 447.3,222.4 450.3,223.9 453.3,225.0 456.3,225.8 460.0,225.8 463.0,224.6 465.3,223.1 467.5,221.3 467.5,221.3 467.4,221.2 464.5,219.8 462.3,218.6 460.0,217.9 458.5,215.6 455.9,215.3 454.0,213.8 453.3,211.5 450.3,212.6 448.9,213.5Z" fill="#c87fc0" stroke="#c87fc0" fill-rule="evenodd"/>
<path d="M467.5,221.3 470.5,222.8 473.5,224.6 476.5,225.8 478.0,224.3 477.6,221.3 476.9,217.5 476.1,213.8 475.8,210.0 476.5,208.5 475.8,205.5 475.0,202.5 472.8,201.8 470.5,203.3 468.3,204.8 466.0,203.3 464.1,202.5 464.5,205.5 462.3,206.3 460.0,204.8 457.8,206.3 455.5,207.8 453.3,208.9 453.3,211.5 454.0,213.8 455.9,215.3 458.5,215.6 460.0,217.9 462.3,218.6 464.5,219.8 467.4,221.2 467.5,221.3 467.5,221.3Z" fill="#d0d1ee" stroke="#d0d1ee" fill-rule="evenodd"/>
<path d="M701.1,284.1 698.0,284.0 695.0,283.6 692.5,282.9 690.0,283.0 686.7,282.7 683.0,283.0 680.4,283.8 678.5,285.4 676.0,287.0 674.0,289.0 672.6,290.6 670.0,292.0 668.2,294.1 666.0,296.0 664.5,299.0 663.0,302.0 664.3,305.0 665.0,309.0 664.7,312.4 664.0,316.0 667.0,320.0 670.0,321.1 673.0,322.0 677.0,323.0 677.7,326.5 677.6,330.0 677.9,333.0 677.6,335.3 677.0,338.0 677.0,341.3 677.6,344.1 678.0,347.0 681.2,347.6 684.0,348.0 687.1,347.1 690.0,347.0 692.9,348.1 696.0,349.0 698.7,349.8 702.0,351.0 707.0,352.0 707.9,349.0 708.0,346.0 708.7,343.7 710.0,341.0 710.6,337.8 712.0,335.0 711.2,331.4 709.0,328.0 707.9,325.9 705.5,324.3 704.0,322.0 702.2,319.2 700.0,316.0 699.1,312.9 699.0,310.0 697.4,307.6 696.0,305.0 692.0,302.0 690.1,300.2 688.0,298.0 687.4,294.9 686.0,292.0 688.0,288.0 690.9,286.3 694.0,286.0 697.2,285.7 699.0,284.2 701.1,284.1Z" fill="#dddddd" stroke="#dddddd" fill-rule="evenodd"/>
<path d="M580.0,268.0 577.2,267.0 574.0,266.0 570.7,264.1 567.0,263.0 564.4,261.5 560.0,263.8 557.8,265.6 556.2,267.5 554.4,269.6 552.5,271.2 550.0,268.8 547.5,265.6 545.0,262.5 541.2,261.2 537.5,262.5 533.8,263.8 530.0,265.0 526.2,266.9 522.5,268.8 518.8,271.2 516.6,272.7 517.0,273.0 519.3,274.7 520.6,276.6 523.0,278.0 525.9,279.8 529.0,282.0 531.9,283.4 534.0,286.0 535.5,288.4 537.0,291.0 536.0,296.0 534.0,297.6 530.0,298.8 535.0,298.1 538.1,295.0 542.5,293.8 547.5,293.1 548.8,296.9 550.0,300.0 551.9,301.9 554.1,304.0 556.3,305.0 560.0,305.6 563.1,308.1 567.5,305.6 571.2,303.8 571.2,299.4 570.2,296.2 570.0,293.1 572.5,288.8 575.6,285.0 577.4,282.7 578.1,280.0 579.4,275.0 579.8,271.9 580.0,268.0Z" fill="#9a5fe0" stroke="#9a5fe0" fill-rule="evenodd"/>
<path d="M564.4,261.5 562.0,261.0 559.3,258.9 557.0,257.0 556.1,254.4 554.0,252.0 550.0,249.0 547.3,248.2 544.9,248.4 542.0,248.0 539.6,247.2 537.1,246.7 534.0,247.0 531.6,246.7 528.8,245.9 526.0,246.0 523.4,245.1 517.5,250.0 515.0,251.0 512.3,252.2 510.0,254.4 507.1,255.1 504.5,256.6 502.5,258.1 499.7,258.8 497.0,260.7 500.1,261.6 503.0,263.0 505.0,265.2 507.8,266.5 510.0,268.0 512.6,269.0 515.0,271.0 516.6,272.7 518.8,271.2 522.5,268.8 526.2,266.9 530.0,265.0 533.8,263.8 537.5,262.5 541.2,261.2 545.0,262.5 547.5,265.6 550.0,268.8 552.5,271.2 554.4,269.6 556.2,267.5 557.8,265.6 560.0,263.8 564.4,261.5Z" fill="#8b72d8" stroke="#8b72d8" fill-rule="evenodd"/>
<path d="M415.0,229.4 411.9,228.1 411.2,232.5 410.0,236.2 409.4,238.8 408.1,243.8 406.9,248.8 405.9,251.5 405.6,255.0 405.0,260.0 404.4,262.6 403.1,265.0 402.5,270.0 402.8,273.3 401.9,276.2 402.3,279.2 405.2,277.9 407.5,275.0 409.7,272.1 411.2,268.8 413.6,265.6 415.0,262.5 416.9,259.7 418.8,256.2 420.6,253.8 422.5,251.2 424.8,248.8 426.2,245.0 423.8,247.5 419.4,248.1 416.2,246.2 416.9,242.5 416.2,238.8 416.9,235.0 416.3,232.0 415.0,229.4Z" fill="#8752d3" stroke="#8752d3" fill-rule="evenodd"/>
<path d="M477.5,278.8 482.5,277.5 487.5,277.5 492.5,277.2 496.9,276.9 499.3,275.9 502.5,275.6 507.5,276.2 510.0,276.9 511.9,278.8 512.3,279.5 511.2,277.2 510.0,276.3 508.2,273.8 506.2,271.9 503.8,269.3 501.2,266.9 498.5,264.5 496.2,261.2 492.5,263.1 487.5,263.8 482.5,263.8 481.2,267.5 480.0,272.5 478.1,276.9 477.5,278.8Z" fill="#8b72d8" stroke="#8b72d8" fill-rule="evenodd"/>
<path d="M479.9,228.8 479.1,225.0 478.8,221.3 479.5,217.5 480.6,214.5 482.3,210.0 478.8,207.8 476.5,208.5 475.8,210.0 476.1,213.8 476.9,217.5 477.6,221.3 478.0,224.3 476.5,225.8 473.5,224.6 470.5,222.8 467.5,221.3 465.3,223.1 463.0,224.6 460.0,225.8 456.3,225.8 453.2,228.0 455.5,231.0 458.5,233.2 462.0,236.0 460.0,233.2 463.8,235.1 467.5,236.3 471.3,235.9 475.0,235.5 478.0,235.9 479.7,234.0 480.6,231.0 479.9,228.8Z" fill="#9d60de" stroke="#9d60de" fill-rule="evenodd"/>
<path d="M478.8,262.5 482.5,263.8 487.5,263.8 492.5,263.1 496.2,261.2 497.0,260.7 496.9,260.6 496.2,256.2 496.5,253.3 495.6,250.0 496.4,246.8 497.2,243.9 499.0,239.3 496.0,241.5 493.0,243.8 490.0,246.0 487.0,248.6 484.0,251.6 481.8,254.3 481.0,255.0 478.8,262.5Z" fill="#9d60de" stroke="#9d60de" fill-rule="evenodd"/>
<path d="M591.4,378.5 594.0,378.0 593.7,375.5 593.0,372.0 591.5,369.2 590.0,366.0 588.0,364.1 586.5,362.2 584.0,361.0 582.2,358.9 579.8,356.8 577.6,355.0 575.0,352.5 572.5,350.4 570.0,348.8 567.3,347.0 565.0,345.0 562.4,342.9 560.0,341.2 556.2,345.0 561.0,349.0 564.0,352.5 568.0,355.0 571.0,359.0 573.5,359.3 576.0,361.0 578.2,362.0 581.0,362.5 582.5,364.5 585.0,366.0 587.5,367.5 589.0,370.0 591.0,374.0 591.4,378.5Z" fill="#dcbfe0" stroke="#dcbfe0" fill-rule="evenodd"/>
<path d="M496.9,276.9 498.8,280.6 501.2,283.1 500.0,286.9 498.8,290.6 496.9,294.4 496.3,296.1 499.4,293.8 502.5,291.2 506.2,288.1 510.0,285.0 513.8,281.9 512.7,280.1 512.5,280.0 512.3,279.5 511.9,278.8 510.0,276.9 507.5,276.2 502.5,275.6 499.3,275.9 496.9,276.9Z" fill="#c093e2" stroke="#c093e2" fill-rule="evenodd"/>
<path d="M411.2,218.8 406.2,218.8 407.5,221.2 406.9,225.0 406.2,228.8 405.6,233.8 407.5,237.5 410.0,236.2 411.2,232.5 411.9,228.1 415.0,229.4 418.8,228.1 421.2,224.4 417.5,221.9 413.8,219.4 411.2,218.8Z" fill="#aaa2ea" stroke="#aaa2ea" fill-rule="evenodd"/>
<path d="M392.5,216.2 390.6,213.1 386.2,213.8 383.1,215.0 384.4,220.0 385.0,223.8 387.5,228.1 390.6,228.1 391.2,226.2 394.4,225.0 395.0,222.5 393.8,218.8 392.5,216.2Z" fill="#aaa2ea" stroke="#aaa2ea" fill-rule="evenodd"/>
<path d="M406.2,218.8 401.2,217.5 396.2,216.9 392.5,216.2 393.8,218.8 395.0,222.5 398.8,225.0 402.5,228.1 406.2,228.8 406.9,225.0 407.5,221.2 406.2,218.8Z" fill="#b9b0ee" stroke="#b9b0ee" fill-rule="evenodd"/>
<path d="M415.0,229.4 416.3,232.0 416.9,235.0 416.2,238.8 416.9,242.5 416.2,246.2 419.4,248.1 423.8,247.5 426.2,245.0 426.9,241.2 425.0,238.1 421.9,237.5 421.2,233.8 418.8,233.8 417.5,231.2 415.0,229.4Z" fill="#8552d0" stroke="#8552d0" fill-rule="evenodd"/>
<path d="M445.4,219.1 444.5,220.5 442.5,222.5 440.6,225.2 438.8,227.5 443.5,229.0 447.2,230.0 451.0,229.5 453.2,228.0 456.3,225.8 453.3,225.0 450.3,223.9 447.3,222.4 445.0,220.5 445.4,219.1Z" fill="#9d60de" stroke="#9d60de" fill-rule="evenodd"/>
<path d="M438.2,251.6 441.4,254.3 442.0,257.0 447.0,258.0 451.0,256.5 453.0,253.5 450.0,251.5 445.0,250.5 438.2,251.6Z" fill="#aaa2ea" stroke="#aaa2ea" fill-rule="evenodd"/>
<path d="M547.5,327.5 548.9,330.4 551.2,332.5 553.9,335.0 556.2,337.5 558.3,338.9 560.0,341.2 562.5,341.5 560.0,336.9 557.8,335.7 555.6,333.8 554.0,331.0 551.9,329.4 550.3,326.2 550.0,323.1 547.5,327.5Z" fill="#edb9b0" stroke="#edb9b0" fill-rule="evenodd"/>
<path d="M497.0,260.7 496.2,261.2 498.5,264.5 501.2,266.9 503.8,269.3 506.2,271.9 508.2,273.8 510.0,276.3 511.2,277.2 515.0,273.8 516.6,272.7 515.0,271.0 512.6,269.0 510.0,268.0 507.8,266.5 505.0,265.2 503.0,263.0 500.1,261.6 497.0,260.7Z" fill="#8b72d8" stroke="#8b72d8" fill-rule="evenodd"/>
<path d="M512.3,279.5 512.7,280.1 514.3,281.7 516.2,283.8 516.6,284.3 517.5,285.0 519.6,287.3 520.1,287.7 521.2,290.0 522.9,292.3 523.7,293.4 526.2,295.6 530.0,298.8 534.0,297.6 536.0,296.0 537.0,291.0 535.5,288.4 534.0,286.0 531.9,283.4 529.0,282.0 525.9,279.8 523.0,278.0 520.6,276.6 519.3,274.7 517.0,273.0 516.6,272.7 515.0,273.8 511.2,277.2 512.3,279.5Z" fill="#8083cc" stroke="#8083cc" fill-rule="evenodd"/>
<path d="M432.5,235.0 431.2,232.9 428.8,231.2 427.3,229.2 425.0,227.5 421.2,224.4 418.8,228.1 415.0,229.4 417.5,231.2 418.8,233.8 421.2,233.8 421.9,237.5 425.0,238.1 426.9,241.2 426.2,245.0 424.8,248.8 422.5,251.2 420.6,253.8 418.8,256.2 416.9,259.7 415.0,262.5 413.6,265.6 411.2,268.8 409.7,272.1 407.5,275.0 405.2,277.9 402.3,279.2 401.3,282.5 401.8,285.3 402.5,288.8 402.4,291.7 403.1,295.0 404.4,300.0 404.9,302.3 406.2,305.0 408.1,303.8 409.4,306.9 411.2,303.8 413.7,301.3 416.2,300.0 418.4,297.3 421.2,295.0 423.1,292.5 425.0,290.0 426.5,287.8 427.5,285.0 429.4,282.6 430.0,280.0 432.1,278.6 435.0,278.1 438.5,277.0 438.6,273.4 440.0,270.0 438.6,266.8 438.0,263.0 438.4,260.2 438.2,257.5 439.0,255.0 438.2,251.6 438.0,248.0 438.2,244.7 440.0,242.5 436.0,240.0 433.0,238.0 432.5,235.0Z" fill="#8f5cd9" stroke="#8f5cd9" fill-rule="evenodd"/>
<path d="M654.4,199.4 654.5,198.1 654.0,198.0 654.4,199.4Z" fill="#edc7c6" stroke="#edc7c6" fill-rule="evenodd"/>
<path d="M536.7,182.5 538.0,183.0 538.1,182.5 537.0,182.3 536.7,182.5Z" fill="#c05cb1" stroke="#c05cb1" fill-rule="evenodd"/>
<path d="M652.4,276.4 654.0,274.0 654.8,270.8 652.4,276.4Z" fill="#edc7c6" stroke="#edc7c6" fill-rule="evenodd"/>
<path d="M641.0,285.0 639.8,288.8 640.0,292.0 639.9,294.6 640.9,297.6 642.0,300.0 641.5,297.3 641.1,294.8 641.0,292.0 642.0,288.3 641.0,285.0Z" fill="#edc7c6" stroke="#edc7c6" fill-rule="evenodd"/>
<path d="M686.0,484.0 686.0,486.0 687.0,490.0 686.6,487.1 686.0,484.0Z" fill="#dddddd" stroke="#dddddd" fill-rule="evenodd"/>
<path d="M639.0,490.0 641.0,487.6 640.9,484.7 639.7,487.3 639.0,490.0Z" fill="#dddddd" stroke="#dddddd" fill-rule="evenodd"/>
<path d="M524.0,400.0 519.1,398.8 521.2,400.0 524.0,400.0Z" fill="#d590cf" stroke="#d590cf" fill-rule="evenodd"/>
<path d="M527.0,298.6 530.0,298.8 526.2,295.6 523.7,293.4 525.0,295.0 527.0,298.6Z" fill="#8083cc" stroke="#8083cc" fill-rule="evenodd"/>
<path d="M551.2,332.5 548.9,330.4 547.5,327.5 546.2,330.0 541.2,331.2 546.2,332.5 551.2,332.5Z" fill="#dcbfe0" stroke="#dcbfe0" fill-rule="evenodd"/>
<path d="M519.4,321.9 516.8,323.8 515.0,326.2 512.6,328.0 511.2,332.5 515.0,329.4 518.1,325.6 519.4,322.5 519.4,321.9Z" fill="#c4b4ea" stroke="#c4b4ea" fill-rule="evenodd"/>
<path d="M535.5,329.6 538.2,330.7 541.2,331.2 538.5,330.1 536.2,329.4 535.5,329.6Z" fill="#d79fdd" stroke="#d79fdd" fill-rule="evenodd"/>
<path d="M535.5,329.6 535.0,329.4 530.0,330.0 527.8,331.6 526.0,332.6 526.2,332.5 528.9,331.3 531.2,330.6 535.5,329.6Z" fill="#d79fdd" stroke="#d79fdd" fill-rule="evenodd"/>
<path d="M522.6,333.4 525.0,333.1 526.0,332.6 522.6,333.4Z" fill="#dcbfe0" stroke="#dcbfe0" fill-rule="evenodd"/>
<path d="M522.6,333.4 521.5,333.5 517.5,333.8 513.7,334.3 509.3,334.1 507.5,335.6 503.8,337.5 507.5,338.8 511.2,336.2 513.9,334.8 516.2,334.4 521.2,333.8 522.6,333.4Z" fill="#dcbfe0" stroke="#dcbfe0" fill-rule="evenodd"/>
<path d="M445.4,219.1 446.2,217.5 447.6,214.6 448.9,213.5 447.3,214.5 445.8,217.5 445.4,219.1Z" fill="#8568d2" stroke="#8568d2" fill-rule="evenodd"/>
<path d="M406.2,228.8 402.5,228.1 405.0,231.2 405.6,233.8 406.2,228.8Z" fill="#8552d0" stroke="#8552d0" fill-rule="evenodd"/>
<path d="M410.0,236.2 407.5,237.5 409.4,238.8 410.0,236.2Z" fill="#aaa2ea" stroke="#aaa2ea" fill-rule="evenodd"/>
<path d="M489.4,338.1 490.0,335.0 489.4,330.0 490.0,325.0 488.8,320.0 489.4,325.0 488.8,330.0 489.4,335.0 489.4,338.1Z" fill="#c4b4ea" stroke="#c4b4ea" fill-rule="evenodd"/>
<path d="M497.0,260.7 499.7,258.8 496.9,260.6 497.0,260.7Z" fill="#c4b4ea" stroke="#c4b4ea" fill-rule="evenodd"/>
<path d="M512.7,280.1 512.3,279.5 512.5,280.0 512.7,280.1Z" fill="#c093e2" stroke="#c093e2" fill-rule="evenodd"/>
<path d="M512.7,280.1 513.8,281.9 516.6,284.3 516.2,283.8 514.3,281.7 512.7,280.1Z" fill="#8083cc" stroke="#8083cc" fill-rule="evenodd"/>
<path d="M519.6,287.3 517.5,285.0 516.6,284.3 517.6,285.7 519.6,287.3Z" fill="#c4b4ea" stroke="#c4b4ea" fill-rule="evenodd"/>
<path d="M519.6,287.3 519.7,287.4 521.2,290.0 520.1,287.7 519.6,287.3Z" fill="#8083cc" stroke="#8083cc" fill-rule="evenodd"/>
<path d="M523.7,293.4 522.9,292.3 521.2,290.0 523.3,293.0 523.7,293.4Z" fill="#c4b4ea" stroke="#c4b4ea" fill-rule="evenodd"/>
</g>
<g fill="none" stroke-linejoin="round" stroke-linecap="round" stroke="#2a2048" stroke-width="1.2" opacity="0.45">
<polyline points="578.6,344.6 581.2,348.1 583.9,351.6 587.4,355.1 590.0,357.7 592.6,361.2 593.5,365.6 593.9,370.0"/>
<polyline points="527.9,279.5 530.7,278.9 533.1,278.6 535.7,280.7 538.4,282.1 542.7,283.9"/>
<polyline points="555.0,284.7 556.1,281.9 558.5,279.5 562.0,277.7 564.5,278.6 567.2,278.6 570.0,280.3 572.5,280.4 576.0,282.6"/>
<polyline points="528.7,288.2 531.5,288.6 534.0,290.0 536.8,289.9 540.1,290.0 543.2,291.1 546.2,291.3 550.6,292.2 555.0,291.7 557.6,288.2 558.5,284.7"/>
</g>
<g fill="none" stroke-linejoin="round" stroke-linecap="round" stroke="#3f4070" stroke-width="1" opacity="0.9">
<polyline points="499.0,262.5 505.0,267.0 511.0,272.5 517.0,278.0 522.0,283.5 527.0,289.0 531.0,294.5"/>
<polyline points="501.0,262.5 499.0,265.0"/>
<polyline points="504.0,264.0 501.5,268.0"/>
<polyline points="507.0,266.0 504.0,270.5"/>
<polyline points="510.0,268.5 506.5,273.0"/>
<polyline points="513.0,270.5 509.0,275.5"/>
<polyline points="516.0,272.5 511.5,278.0"/>
<polyline points="519.0,275.0 514.0,281.0"/>
<polyline points="522.0,277.5 517.0,284.0"/>
<polyline points="525.0,279.5 519.5,287.0"/>
<polyline points="528.0,281.5 522.0,290.0"/>
<polyline points="531.0,284.0 524.5,293.0"/>
<polyline points="534.0,286.5 527.0,295.5"/>
<polyline points="536.5,290.0 530.0,297.5"/>
<polyline points="529.0,282.0 533.0,281.0 537.0,282.5 541.0,283.0 544.0,285.5"/>
<polyline points="553.0,286.0 557.0,284.5 560.0,281.5 562.5,279.0"/>
<polyline points="500.0,259.0 503.0,256.5 506.0,258.0"/>
</g>
<g fill="none" stroke-linejoin="round" stroke-linecap="round" stroke="#3a3840" stroke-width="1.1" opacity="0.72">
<polyline points="678.8,68.8 688.0,104.4"/>
<polyline points="688.0,104.4 699.4,87.0"/>
<polyline points="654.0,244.0 654.1,248.0 654.1,250.9 653.8,253.8 654.4,257.2 654.4,260.0 654.5,263.0 655.1,265.2 655.0,268.0 654.8,270.8 654.0,274.0 652.4,276.4 650.0,278.0 647.1,279.8 644.0,281.0 641.0,285.0 639.8,288.8 640.0,292.0 639.9,294.6 640.9,297.6 642.0,300.0"/>
<polyline points="701.1,284.1 699.0,284.2 697.2,285.7 694.0,286.0 690.9,286.3 688.0,288.0 686.0,292.0 687.4,294.9 688.0,298.0 690.1,300.2 692.0,302.0 696.0,305.0 697.4,307.6 699.0,310.0 699.1,312.9 700.0,316.0 702.2,319.2 704.0,322.0 705.5,324.3 707.9,325.9 709.0,328.0 711.2,331.4 712.0,335.0"/>
<polyline points="654.8,270.8 652.4,276.4"/>
<polyline points="641.0,285.0 642.0,288.3 641.0,292.0 641.1,294.8 641.5,297.3 642.0,300.0 642.4,303.6 642.2,306.5 643.0,310.0 643.1,312.4 642.3,315.0 642.4,318.0 642.4,321.3 642.3,323.9 642.0,327.0"/>
<polyline points="709.0,408.0 705.3,410.0 702.0,411.0 699.2,412.5 696.0,414.0 692.2,415.2 689.0,417.0 687.0,419.1 685.0,422.0 684.2,424.9 683.0,428.0 682.4,430.5 681.0,433.0 677.5,433.8 674.0,434.0 670.7,433.6 668.0,432.0 664.8,432.4 662.0,434.0 660.7,436.7 659.0,439.0 657.5,441.9 656.0,444.0 653.5,446.3 652.0,449.0 650.2,451.2 648.0,454.0 646.5,456.4 644.0,458.0 642.6,460.8 642.0,464.0 641.8,467.2 643.0,470.0 644.0,472.9 644.0,476.0 642.4,478.7 642.0,482.0 640.9,484.7 641.0,487.6 639.0,490.0"/>
<polyline points="640.9,484.7 639.7,487.3 639.0,490.0 639.7,492.7 640.0,496.0 639.0,499.7 638.0,503.0"/>
<polyline points="568.0,406.0 570.9,407.2 574.0,407.0 577.0,409.3 580.0,411.0 583.0,412.5 586.0,415.0 588.7,417.0 592.0,419.0 597.0,420.0 598.0,425.0 597.0,430.0 598.8,433.2 600.0,436.0 601.4,438.6 604.0,441.0 606.3,442.4 608.0,445.0 607.0,450.0 608.0,454.0 610.0,458.0 612.0,460.4"/>
<polyline points="550.0,323.1 547.5,327.5"/>
<polyline points="547.5,327.5 546.2,330.0 541.2,331.2 538.2,330.7 535.0,329.4 530.0,330.0 527.8,331.6 525.0,333.1 521.5,333.5 517.5,333.8 513.7,334.3 509.3,334.1"/>
<polyline points="392.5,216.2 393.8,218.8 395.0,222.5 394.4,225.0 391.2,226.2 390.6,228.1 387.5,228.1"/>
<polyline points="395.0,222.5 398.8,225.0 402.5,228.1"/>
<polyline points="406.2,218.8 407.5,221.2 406.9,225.0 406.2,228.8 402.5,228.1"/>
<polyline points="406.2,228.8 405.6,233.8"/>
<polyline points="426.2,245.0 424.8,248.8 422.5,251.2 420.6,253.8 418.8,256.2 416.9,259.7 415.0,262.5 413.6,265.6 411.2,268.8 409.7,272.1 407.5,275.0 405.2,277.9 402.3,279.2"/>
<polyline points="438.5,277.0 435.0,278.1 432.1,278.6 430.0,280.0 429.4,282.6 427.5,285.0 426.5,287.8 425.0,290.0 423.1,292.5 421.2,295.0 418.4,297.3 416.2,300.0 413.7,301.3 411.2,303.8 409.4,306.9"/>
<polyline points="503.8,337.5 507.5,338.8 511.2,336.2 513.9,334.8 516.2,334.4 521.2,333.8 526.2,332.5 528.9,331.3 531.2,330.6 536.2,329.4 538.5,330.1 541.2,331.2 546.2,332.5 551.2,332.5"/>
<polyline points="513.8,281.9 510.0,285.0 506.2,288.1 502.5,291.2 499.4,293.8 496.3,296.1"/>
<polyline points="556.2,345.0 561.0,349.0 564.0,352.5 568.0,355.0 571.0,359.0 573.5,359.3 576.0,361.0 578.2,362.0 581.0,362.5 582.5,364.5 585.0,366.0 587.5,367.5 589.0,370.0 591.0,374.0 591.4,378.5"/>
<polyline points="496.9,260.6 500.1,261.6 503.0,263.0 505.0,265.2 507.8,266.5 510.0,268.0 512.6,269.0 515.0,271.0 517.0,273.0 519.3,274.7 520.6,276.6 523.0,278.0 525.9,279.8 529.0,282.0 531.9,283.4 534.0,286.0 535.5,288.4 537.0,291.0 536.0,296.0 534.0,297.6 530.0,298.8"/>
<polyline points="496.2,261.2 498.5,264.5 501.2,266.9 503.8,269.3 506.2,271.9 508.2,273.8 510.0,276.2"/>
<polyline points="438.2,251.6 445.0,250.5 450.0,251.5 453.0,253.5 451.0,256.5 447.0,258.0 442.0,257.0 441.4,254.3 438.2,251.6"/>
<polyline points="440.0,242.5 438.2,244.7 438.0,248.0 438.2,251.6 439.0,255.0 438.2,257.5 438.4,260.2 438.0,263.0 438.6,266.8 440.0,270.0 438.6,273.4 438.5,277.0"/>
</g>
<g fill="none" stroke-linejoin="round" stroke-linecap="round" stroke="#0d0d12" stroke-width="1.6">
<polyline points="381.0,0.0 382.6,4.0 385.0,8.4 388.6,10.0 391.4,7.6 392.4,3.6 391.2,0.0"/>
<polyline points="392.4,3.6 394.3,6.0 395.0,8.4 396.6,11.3 399.0,14.0 401.7,15.5 404.4,17.0 408.4,17.5 412.0,17.6 414.4,17.3 417.2,18.7 420.0,18.6 422.6,19.6 426.0,20.0"/>
<polyline points="426.0,20.0 423.3,21.8 422.0,24.0 420.7,26.7 418.0,29.0 416.5,32.0 416.0,35.0 416.2,37.9 417.0,41.0 417.9,44.1 419.0,47.0 419.4,50.3 420.0,54.0 420.6,57.4 421.0,61.0 422.4,64.0 424.0,66.0 426.1,68.5 429.0,70.0 431.1,71.6 433.4,73.6"/>
<polyline points="426.0,20.0 428.3,17.7 431.0,16.0 434.0,14.6 437.0,13.6"/>
<polyline points="437.0,13.6 438.6,15.4 440.0,18.0 441.9,19.5 444.0,21.6 448.0,24.0"/>
<polyline points="448.0,24.0 447.5,26.8 446.9,29.6 447.0,32.0 446.4,34.9 447.1,37.4 446.2,40.0 445.2,43.4 445.0,46.3 445.2,50.0 444.9,53.2 444.5,56.7 444.2,60.0 445.0,62.4 444.8,65.6 444.6,68.0 445.6,72.4"/>
<polyline points="433.4,73.6 437.0,73.7 440.0,73.0 442.6,72.7 445.6,72.4"/>
<polyline points="433.4,73.6 433.7,76.5 433.6,80.0 432.7,82.2 432.0,85.0 429.0,89.0 427.0,90.6 425.0,92.4 422.7,94.1 420.0,94.6 417.4,95.4 415.0,95.5 412.0,95.0 408.3,95.8 405.0,96.4 401.2,99.4"/>
<polyline points="445.6,72.4 449.3,74.0 452.0,76.0 455.4,77.1 458.0,79.0 461.0,79.4 464.0,81.0 466.7,82.2 470.0,82.0 472.9,82.7 476.0,83.0 480.0,85.0 484.0,87.6"/>
<polyline points="484.0,87.6 484.8,90.2 485.6,93.0 485.6,98.0 483.0,101.0 480.5,103.1 478.0,104.0 475.2,105.7 472.0,106.0 468.0,109.0 465.0,112.0 464.0,116.0 463.4,119.6"/>
<polyline points="420.0,94.6 422.4,96.7 425.0,98.8 428.0,102.4 427.6,105.4 427.4,108.8 430.0,112.4 431.0,116.0"/>
<polyline points="448.0,24.0 452.2,23.2 456.7,22.2 459.4,23.1 462.0,24.0 466.5,26.2 470.2,27.7 471.7,29.2 474.1,30.9 477.0,31.5 481.5,32.2 485.2,33.7 487.5,30.7 490.5,28.5 495.0,27.7 496.5,24.7 499.5,21.0 501.7,19.2"/>
<polyline points="456.7,22.2 458.2,18.7 459.7,15.7 462.7,14.2 466.5,12.0 470.2,9.0 472.5,6.0 472.8,2.2 471.7,0.0"/>
<polyline points="471.7,29.2 471.0,25.5 473.2,22.5 476.0,21.8 478.5,21.7 482.2,20.2 483.7,16.5 482.2,12.7 481.5,10.5 486.0,9.0 490.5,6.7 493.8,6.4 496.5,5.7 498.8,4.4 501.7,3.7 505.5,3.0 510.0,3.7 514.5,4.5 519.0,3.0 523.5,2.2"/>
<polyline points="495.0,27.7 498.0,27.3 501.1,26.6 504.0,27.0 507.7,25.5 509.2,22.5"/>
<polyline points="483.7,16.5 486.0,16.6 489.0,16.2 491.7,17.3 495.0,18.0 497.9,19.2 501.7,19.2"/>
<polyline points="509.2,22.5 512.2,18.7 514.5,15.0 516.7,12.7 517.5,10.2 520.2,7.8 522.7,5.2 523.5,2.2 523.5,2.2"/>
<polyline points="509.2,22.5 511.6,24.5 513.7,26.2 516.0,30.0 515.7,32.6 516.7,35.2 520.0,37.0"/>
<polyline points="516.7,35.2 515.1,37.5 513.0,39.0 511.8,41.2 510.0,43.5 509.2,48.0 510.0,51.0 510.7,54.0 512.3,56.2 513.7,58.5 516.0,63.0 517.0,65.8 517.5,69.0 519.5,72.1 522.0,75.0 523.4,78.3 525.0,81.0 526.2,83.8 528.0,85.5 529.7,87.4 530.4,89.4"/>
<polyline points="520.0,37.0 523.3,35.6 526.0,34.0 529.0,33.0 532.0,32.0 535.3,30.7 538.0,30.0 540.0,31.0"/>
<polyline points="540.0,31.0 543.2,31.0 546.0,30.0 549.0,29.6 551.3,28.3 554.0,28.0 557.8,28.0 561.0,27.0 563.0,26.0"/>
<polyline points="563.0,26.0 561.5,23.0 561.0,20.0 560.0,17.0 556.0,14.0 553.6,11.9 551.0,10.0 548.0,6.0 545.0,2.0 543.0,0.0"/>
<polyline points="563.0,26.0 566.2,27.1 570.0,27.0 573.0,26.3 575.1,26.6 578.0,27.0 581.0,26.2 584.0,25.0 587.1,24.1 590.0,22.0 592.6,21.6 595.0,20.0"/>
<polyline points="561.0,20.0 563.6,18.4 565.5,17.6 568.0,16.0 570.6,15.5 573.1,14.8 576.0,14.0 578.6,13.2 581.3,12.9 584.0,13.0 586.6,11.7 590.0,11.6 594.0,11.0"/>
<polyline points="594.0,11.0 595.4,15.0 595.0,20.0"/>
<polyline points="594.0,11.0 590.0,9.0 587.0,5.0 586.0,0.0"/>
<polyline points="595.0,20.0 598.3,20.3 602.0,20.0 606.0,23.0 608.3,24.8 610.0,27.0 613.5,28.0 616.0,30.0 618.2,31.5 621.2,32.9 624.0,34.0 627.8,35.3 631.0,36.0"/>
<polyline points="631.0,36.0 632.8,33.5 634.0,31.0 637.1,30.2 640.0,28.0 642.7,26.7 645.2,26.5 648.0,26.0 650.5,26.1 653.4,25.9 656.0,25.0 659.0,24.8 661.0,25.7 664.0,26.0 667.1,27.2 670.0,27.0"/>
<polyline points="659.0,0.0 659.4,2.1 660.0,5.0 661.7,6.6 664.3,7.9 666.0,10.0 667.9,11.4 670.3,13.4 672.0,15.0 674.7,15.8 677.5,17.0 683.0,18.0"/>
<polyline points="631.0,36.0 634.4,37.0 638.0,38.0 638.5,40.5 640.0,43.0 641.9,45.9 644.0,49.0 645.1,52.0 646.2,54.3 646.9,57.0 647.5,60.0"/>
<polyline points="540.0,31.0 541.4,33.9 543.0,37.0 545.9,38.0 548.0,40.0 549.3,42.2 550.0,45.0 553.2,46.4 556.0,48.0"/>
<polyline points="556.0,48.0 555.7,50.5 554.0,53.0 553.6,56.2 553.0,59.0 549.9,60.4 546.0,61.0 543.0,62.9 540.0,64.0 539.4,66.8 538.0,69.0 538.7,71.8 540.0,75.0 542.9,76.0 546.0,77.0 550.0,79.0"/>
<polyline points="556.0,48.0 558.6,46.1 562.0,45.0 564.7,43.6 567.0,43.0 570.0,47.0 572.6,48.6 575.0,50.0 580.0,49.0 583.1,48.9 586.0,50.0 588.3,51.9 591.0,53.0 594.0,57.0 595.0,62.0 599.0,65.0 601.4,67.2 604.0,68.0 606.7,68.3 610.0,69.0 612.7,69.8 616.0,70.0 618.0,74.0"/>
<polyline points="550.0,79.0 553.6,77.6 557.0,76.0 560.5,75.5 564.0,74.0 567.0,73.5 569.3,73.3 572.0,72.0 574.7,70.6 577.0,69.0 580.8,69.6 584.0,70.0 586.6,70.0 589.4,70.6 592.0,70.0 594.5,69.7 597.0,70.0 600.0,70.0 602.8,70.2 605.6,69.9 608.0,70.0 610.7,70.6 613.1,70.3 616.0,70.0"/>
<polyline points="531.0,86.4 534.6,85.2 538.0,84.0 541.9,83.4 545.0,82.0 547.7,81.0 550.0,79.0"/>
<polyline points="531.0,86.4 530.4,89.4 530.0,92.0 531.3,95.4 533.0,98.0"/>
<polyline points="533.0,98.0 536.3,97.0 539.4,97.2 542.0,96.0 545.0,95.7 547.2,94.0 550.0,94.0 553.1,93.1 556.0,93.0"/>
<polyline points="550.0,79.0 555.0,80.0 558.0,84.0 557.1,86.7 556.5,90.2 556.0,93.0"/>
<polyline points="556.0,93.0 556.3,96.0 557.0,99.0 559.6,100.6 563.0,102.0 565.8,103.2 569.0,104.0"/>
<polyline points="557.0,76.0 559.8,79.2 561.0,82.0 562.4,85.3 563.0,89.0 566.6,88.6 570.0,88.0 573.2,87.7 576.9,87.5 580.0,88.0 583.6,87.6 586.3,87.2 590.0,87.6 592.6,87.3 595.6,87.5 598.0,87.0 600.0,84.0 602.5,83.7 605.3,83.6 608.0,83.0 609.0,80.0 612.3,79.2 616.0,79.0 620.0,78.0"/>
<polyline points="618.0,74.0 620.0,78.0"/>
<polyline points="570.0,88.0 570.2,90.5 570.5,93.6 570.0,96.0 569.7,99.9 569.0,104.0"/>
<polyline points="569.0,104.0 571.4,104.2 574.3,103.7 577.4,104.3 580.0,104.0 583.0,104.5 586.3,103.9 590.0,104.0 594.0,101.0 596.9,100.1 600.0,100.0 603.0,100.3 606.0,102.0 608.7,102.1 611.4,101.3 614.0,101.6 616.3,102.0 619.5,102.0 622.0,101.6 625.3,101.6 629.0,102.0"/>
<polyline points="630.0,90.6 629.6,95.5 629.5,98.6 629.0,102.0 628.8,105.2 629.0,108.0 629.4,111.5 629.6,115.0 630.0,115.6"/>
<polyline points="569.0,104.0 570.6,107.0 572.0,110.0 573.5,113.1 576.0,116.0 578.0,120.0"/>
<polyline points="659.0,0.0 660.0,5.0 662.7,7.3 665.0,10.0 667.8,12.0 670.0,15.0 672.8,14.9 676.0,16.0 678.1,14.4 681.0,13.0 682.3,15.6 683.0,18.0 684.0,20.7 684.2,23.5 684.0,26.0 684.6,28.6 685.6,31.6 687.0,34.0 688.8,37.2 689.6,41.0"/>
<polyline points="670.0,27.0 672.1,29.8 675.0,32.0 676.0,34.8 677.0,37.0 680.1,37.6 683.0,39.0 686.6,40.2 689.6,41.0"/>
<polyline points="689.6,41.0 688.5,43.6 687.0,46.0 685.1,48.0 683.0,50.0 680.1,51.5 677.0,53.0 673.6,54.1 670.0,54.0 668.0,57.4"/>
<polyline points="668.0,57.4 670.3,59.6 673.0,62.0 677.0,65.0 678.8,68.8"/>
<polyline points="699.4,87.0 702.2,88.2 705.1,89.7 707.6,91.2 710.0,93.0 713.2,94.0 716.7,94.6 720.0,94.4 722.8,94.0 725.3,93.6 728.0,93.0 728.9,90.5 729.1,87.6 727.9,85.3 728.8,82.4 729.0,80.0 732.4,78.1 736.0,77.0 736.0,73.0 738.9,73.9 741.3,75.6 744.0,76.0 747.4,77.7 750.0,80.0 753.3,81.0 756.0,82.0 758.2,79.8 760.6,78.3 762.0,76.0 763.8,78.5 765.7,79.9 768.0,82.0 766.8,84.9 767.0,88.0 767.0,90.8 765.8,93.2 765.0,96.0"/>
<polyline points="670.0,125.6 671.3,128.7 674.0,131.0 675.2,134.1 677.0,137.0 676.4,140.4 677.0,144.0 675.1,146.5 674.0,150.0 674.0,155.0 675.5,157.4 678.0,159.0 679.8,161.2 681.0,164.0 681.0,166.7 681.4,170.0"/>
<polyline points="681.4,170.0 685.0,173.0 687.1,175.3 689.0,177.0 691.8,177.3 694.3,178.3 697.0,178.0 700.7,177.8 704.0,177.0 704.8,174.7 704.3,171.3 705.0,169.0 709.0,170.0 711.2,171.7 714.0,173.0 716.4,173.6 719.3,173.5 722.0,174.0 724.3,173.0 727.4,172.7 730.0,172.0"/>
<polyline points="765.0,96.0 764.0,98.0 762.0,100.1 760.6,103.3 759.0,106.0 756.8,108.3 755.7,111.4 754.0,114.0 752.7,117.0 750.8,119.2 750.0,122.0 749.5,125.2 747.9,127.4 747.0,130.0 748.6,132.4 749.8,134.9 752.0,137.0 754.6,140.0 756.0,143.0 755.0,145.4 753.3,148.0 752.0,150.0 749.7,151.9 747.0,154.1 744.0,156.0 741.3,157.7 738.8,157.6 736.0,159.0 734.6,162.0 733.0,164.0 731.8,166.5 730.8,169.6 730.0,172.0"/>
<polyline points="730.0,172.0 731.1,175.2 731.0,178.0 732.5,181.0 733.0,184.0 735.3,186.5 738.0,188.0 740.6,188.0 743.6,189.0 746.0,189.0 748.6,190.2 751.3,190.8 754.0,192.0 756.9,193.3 760.0,194.0 758.4,197.1 757.0,200.0 754.6,201.7 752.0,204.0 750.2,206.4 748.0,208.0 745.0,210.0"/>
<polyline points="697.0,178.0 695.8,180.9 696.0,184.0 696.5,187.0 697.0,190.0 699.0,192.5 701.0,194.0 703.0,196.1 704.0,201.0"/>
<polyline points="681.4,170.0 678.6,170.6 676.0,170.0 673.3,172.1 670.0,173.0 668.0,175.0 667.0,178.0 665.8,181.0 666.0,184.0 663.7,186.4 662.0,190.0 659.5,191.1 657.3,192.5 655.0,194.0 654.4,199.4"/>
<polyline points="533.0,98.0 531.5,100.8 530.0,104.0 527.0,105.3 525.0,107.2 522.0,108.0 519.7,110.1 517.0,112.0 517.0,115.4 518.0,118.0 519.6,120.7 522.0,123.0 520.6,125.6 520.0,129.0 520.5,132.5 521.0,136.0 520.6,139.2 519.0,142.0 520.6,144.8 522.0,148.0 525.3,148.5 528.0,150.0 531.2,149.9 535.0,151.0"/>
<polyline points="535.0,151.0 537.4,149.2 539.7,149.0 542.0,147.0 545.0,146.0 547.1,144.7 550.0,143.0 552.6,143.3 555.4,143.0 558.0,142.4 562.0,143.6 564.9,143.4 567.4,142.3 570.0,142.0 573.0,141.8 574.9,141.1 577.8,139.9 580.0,139.0 582.6,137.8 586.0,137.0"/>
<polyline points="586.0,137.0 584.7,134.0 584.0,131.0 584.0,126.0"/>
<polyline points="578.0,120.0 579.0,124.0 581.5,125.0 584.0,126.0 586.7,125.8 589.4,124.4 592.0,124.0 594.6,123.3 597.2,122.6 600.0,122.0 602.9,120.5 606.0,120.0 608.9,119.8 611.3,118.9 614.0,118.0 616.4,117.3 619.3,117.0 622.0,116.0 625.3,115.2 628.0,115.0 630.0,115.6"/>
<polyline points="630.0,115.6 632.8,115.9 636.0,115.0 638.9,115.2 642.0,114.0"/>
<polyline points="535.0,151.0 536.0,154.3 537.0,158.0 536.0,163.0 532.7,164.5 530.0,167.0 527.2,169.6 524.0,171.0 525.9,173.0 527.0,176.0 530.4,177.6 533.0,180.0 535.3,182.0 538.0,183.0"/>
<polyline points="562.0,143.6 564.1,145.4 566.3,147.3 568.0,149.0 570.7,150.4 572.0,152.7 574.0,154.0 576.6,156.2 580.0,158.0 582.9,159.9 586.0,161.0 591.0,160.0"/>
<polyline points="642.0,114.0 640.2,116.9 638.0,120.0 636.0,122.0 634.6,124.7 633.0,127.0 632.7,130.6 632.0,134.0 630.3,136.1 629.3,139.1 628.0,142.0 627.1,144.7 627.3,147.2 626.0,150.0 628.1,153.2 630.0,156.0 627.9,157.9 627.1,160.2 625.0,162.0 623.9,165.4 623.0,169.0 625.0,172.1 626.0,175.0 629.0,177.6"/>
<polyline points="520.0,162.5 524.0,162.0 526.3,163.2 528.2,165.0 530.0,167.0"/>
<polyline points="538.0,183.0 538.5,179.6 540.0,177.0 542.8,177.0 545.4,176.3 548.0,175.0 551.6,174.8 554.3,174.0 558.0,174.0 560.9,173.0 564.4,172.6 568.0,172.0 570.3,170.5 573.5,169.8 576.0,169.0 578.4,166.7 581.8,166.1 584.0,164.0 585.9,162.4 588.3,161.3 591.0,160.0"/>
<polyline points="591.0,160.0 592.3,163.4 594.0,166.0 595.9,169.4 598.0,172.0 601.3,173.6 604.0,176.0 606.3,175.0 609.0,174.0 609.0,177.5 610.0,181.0"/>
<polyline points="610.0,181.0 608.1,182.3 606.2,184.7 604.0,186.0 601.4,188.4 599.0,190.0 596.5,193.0 595.0,196.0 591.8,197.7 589.0,199.0 585.3,199.4 582.0,200.0 580.0,197.0 578.2,199.2 576.0,201.0 573.1,201.6 570.0,202.0 568.0,204.0 565.1,204.6 562.0,205.0 558.0,208.0 554.0,210.0"/>
<polyline points="540.0,177.0 539.9,180.0 541.0,183.0 542.0,185.2 543.0,188.0 543.3,191.0 545.0,194.0 546.3,197.2 548.0,200.0 549.2,203.1 551.0,206.0 554.0,210.0 553.0,214.0 552.0,219.0"/>
<polyline points="552.0,219.0 549.0,220.3 546.0,221.0 542.8,222.2 540.0,222.0 536.5,222.7 534.0,224.0 531.6,225.2 529.1,226.5 526.0,227.0"/>
<polyline points="552.0,219.0 551.5,221.8 550.0,224.0 550.9,226.8 553.0,229.0 557.0,232.0"/>
<polyline points="557.0,232.0 560.0,232.0 563.0,232.8 566.0,233.0 569.3,232.8 572.5,232.4 576.0,232.0 578.4,231.1 581.1,231.8 584.0,231.0 586.7,231.5 589.3,232.4 592.0,233.0 595.0,237.0 597.4,239.6 600.0,241.0 601.8,242.6 603.9,244.9 606.0,246.0 609.2,248.1 612.0,250.0 615.0,252.1 618.0,253.0"/>
<polyline points="618.0,253.0 620.7,253.2 623.0,251.8 626.0,252.0 629.6,250.2 633.0,249.0 635.8,247.5 638.0,245.0 639.0,240.0 638.0,237.0 640.9,235.9 644.0,235.0 647.6,234.0"/>
<polyline points="610.0,181.0 612.6,180.6 615.4,179.7 618.0,180.0 620.9,179.6 623.6,178.7 626.5,178.7 629.0,177.6 632.8,178.7 636.0,180.0 638.9,181.6 642.0,184.0 644.2,185.8 645.6,188.3 648.0,190.0 650.2,192.5 653.0,195.0 654.4,199.4"/>
<polyline points="526.0,227.0 522.8,228.8 520.0,230.0 517.8,231.8 515.0,233.0"/>
<polyline points="515.0,233.0 513.6,235.8 513.0,239.0 515.9,240.9 518.0,243.0 520.8,243.5 523.4,245.1 526.0,246.0 528.8,245.9 531.6,246.7 534.0,247.0 537.1,246.7 539.6,247.2 542.0,248.0 544.9,248.4 547.3,248.2 550.0,249.0 554.0,252.0 556.1,254.4 557.0,257.0 559.3,258.9 562.0,261.0 564.4,261.5 567.0,263.0 570.7,264.1 574.0,266.0 577.2,267.0 580.0,268.0 584.0,270.0"/>
<polyline points="618.0,253.0 615.8,255.0 614.0,258.0 611.5,259.7 610.0,262.0 607.2,264.3 604.0,266.0 601.5,268.0 598.0,269.0 594.8,269.3 592.0,270.0 589.2,270.4 586.6,270.2 584.0,270.0"/>
<polyline points="647.6,234.0 648.3,230.9 650.0,228.0 651.5,225.3 654.0,223.0 657.0,219.0 659.9,218.3 663.0,217.0 665.8,217.1 668.9,218.3 672.0,218.0 674.6,217.4 677.3,217.8 680.0,217.0 682.8,217.9 686.0,218.0 687.4,215.1 689.0,213.0 690.7,210.3 693.0,209.0 696.1,207.7 698.7,207.0 702.0,206.0 702.3,203.5 704.0,201.0 708.0,198.4 710.5,198.6 713.0,200.0 715.2,198.8 718.0,198.0 722.0,197.6 726.0,200.0 731.0,200.0 733.4,201.2 736.0,202.0 738.9,202.9 742.0,205.0 743.3,207.6 745.0,210.0 749.0,213.0 750.4,216.1 753.0,219.0 754.2,222.7 754.4,226.0 754.3,229.8 753.6,233.0 754.4,238.0 752.1,240.7 751.0,244.0 749.4,246.1 748.0,249.0 746.5,251.4 746.0,254.0 746.9,256.7 748.0,260.0 748.8,263.1 750.0,266.0 751.3,269.2 752.0,272.0 751.9,275.8 753.0,279.0 750.0,281.0 747.1,281.9 744.6,282.4 742.0,282.0 738.9,283.2 736.0,285.0 733.2,285.6 730.0,286.0 727.1,285.2 724.0,284.0 720.9,284.2 718.0,285.0 715.5,283.1 713.0,282.0 711.0,280.0 709.0,278.0 708.0,274.0 704.0,271.0 702.0,268.9 701.0,266.0 700.1,263.5 699.0,261.0 696.0,257.0 693.0,253.0 691.0,249.0 694.0,245.0 694.4,242.0 690.0,241.0 687.1,240.8 684.0,242.0 681.0,242.4 678.0,243.0 673.0,243.6 668.0,244.0 663.0,245.0 658.0,245.6 654.0,244.0 651.0,240.0 648.0,237.0 647.6,234.0"/>
<polyline points="654.0,198.0 657.6,198.4 661.0,199.4 664.5,200.6 667.6,201.0 668.5,204.0 669.0,207.0 668.5,210.1 667.6,213.0 665.0,215.0 663.0,217.0"/>
<polyline points="711.0,280.0 708.0,282.4 704.0,283.2 701.1,284.1 698.0,284.0 695.0,283.6 692.5,282.9 690.0,283.0 686.7,282.7 683.0,283.0 680.4,283.8 678.5,285.4 676.0,287.0 674.0,289.0 672.6,290.6 670.0,292.0 668.2,294.1 666.0,296.0 664.5,299.0 663.0,302.0 664.3,305.0 665.0,309.0 664.7,312.4 664.0,316.0 667.0,320.0 670.0,321.1 673.0,322.0 677.0,323.0"/>
<polyline points="753.0,279.0 756.0,283.0 758.0,287.0 754.0,290.0 750.0,293.0 749.0,297.0 751.0,301.0 746.0,302.0 742.8,302.5 740.0,303.0 738.0,307.0 739.0,312.0 736.8,313.5 734.0,314.0 731.7,316.1 729.0,317.0 726.9,319.3 724.0,321.0 721.8,323.0 720.0,326.0 717.9,328.7 715.0,331.0 712.0,335.0 710.6,337.8 710.0,341.0 708.7,343.7 708.0,346.0 707.9,349.0 707.0,352.0"/>
<polyline points="677.0,323.0 677.7,326.5 677.6,330.0 677.9,333.0 677.6,335.3 677.0,338.0 677.0,341.3 677.6,344.1 678.0,347.0 681.2,347.6 684.0,348.0 687.1,347.1 690.0,347.0 692.9,348.1 696.0,349.0 698.7,349.8 702.0,351.0 707.0,352.0"/>
<polyline points="606.9,317.5 612.0,319.0 614.2,320.3 617.0,321.4 620.0,322.0 622.6,322.3 625.4,324.0 628.0,325.0 630.8,326.2 633.7,325.9 636.0,327.0 639.2,326.4 642.0,327.0 645.0,325.4 648.0,324.0 651.0,322.9 654.0,321.0 657.2,319.9 660.0,320.0 662.9,320.0 666.0,321.0 669.1,321.4 672.0,323.0 677.0,323.0"/>
<polyline points="707.0,352.0 708.4,354.6 709.0,358.0 711.3,359.9 714.0,361.0 718.0,363.0 718.0,367.0"/>
<polyline points="599.6,335.6 601.4,339.4 603.0,343.8 604.8,348.0 609.2,349.0 613.6,348.6 616.2,351.6 618.0,355.0 619.8,359.4 621.6,364.0 623.3,365.7 625.0,368.0 627.2,370.5 630.0,372.0 630.5,375.6 631.0,379.0"/>
<polyline points="631.0,379.0 633.9,379.0 636.7,380.5 640.0,381.0 642.7,382.7 645.2,383.3 648.0,384.0 650.3,385.4 653.2,386.1 656.0,387.0 659.3,388.1 662.0,389.0 664.9,390.3 667.0,392.0 669.0,394.4"/>
<polyline points="669.0,394.4 671.5,392.1 674.0,390.0 676.7,389.7 679.7,389.7 682.0,389.0 684.9,388.9 687.3,388.4 690.0,388.0 693.0,388.5 695.4,388.1 698.0,388.0 701.1,388.1 703.4,389.5 706.0,390.0 708.8,388.1 712.0,387.0 713.9,385.6 716.1,383.5 718.0,382.0 721.0,378.0 720.9,374.8 720.0,372.0 719.0,370.0 718.0,367.0"/>
<polyline points="669.0,394.4 666.2,395.7 664.0,398.0 661.0,399.9 658.0,402.0 656.0,403.8 653.8,404.9 651.0,406.0 648.8,407.3 645.9,407.8 643.0,409.0 640.0,410.8 637.0,413.0 635.0,415.3 634.0,418.0 632.6,420.5 632.0,423.0 629.5,425.0 628.0,427.0 625.0,430.0 624.8,432.9 626.0,436.0 627.7,438.2 629.0,441.0 627.7,443.9 626.0,446.0 623.8,447.4 622.0,450.0 620.7,453.0 619.0,455.0 616.0,459.0 612.0,460.4"/>
<polyline points="612.0,460.4 612.8,463.0 614.0,466.0 615.8,468.8 617.0,472.0 618.3,474.5 617.7,477.4 619.0,480.0 618.0,483.2 618.0,486.0 616.0,490.0"/>
<polyline points="706.0,390.0 704.2,392.3 703.0,395.0 703.9,398.8 706.0,402.0 706.8,405.0 709.0,408.0 712.3,408.9 716.0,410.0 718.3,411.3 720.0,414.0 721.2,416.2 722.0,419.0 720.9,421.5 720.0,424.0 721.4,427.0 722.0,430.0 718.0,432.0 715.4,433.2 713.0,434.0 712.2,436.8 711.0,440.0 710.3,443.4 709.0,446.0 708.3,449.0 708.0,452.0 707.4,455.0 707.0,458.0 704.7,460.5 702.0,462.0 699.6,465.1 698.0,468.0 696.3,469.8 694.0,472.0 691.6,474.2 689.0,476.0 687.5,478.3 686.0,481.0 686.0,486.0 687.0,490.0"/>
<polyline points="618.0,486.0 616.0,490.0 617.0,493.1 617.0,496.0 619.3,498.0 621.0,500.0 623.9,501.4 627.0,502.0 629.2,503.4 632.0,505.0 635.4,504.4 638.0,503.0 639.9,504.7 642.0,507.0 644.1,509.5 646.0,512.0 647.5,514.6 650.0,517.0 652.5,518.2 655.0,520.0 657.0,522.3 659.0,525.0 659.0,530.0 660.0,535.0 662.7,536.4 666.0,537.0 668.4,537.4 671.0,538.0 674.0,538.0 677.2,538.4 680.0,540.0 681.7,542.5 684.0,544.0 684.7,546.6 686.0,549.0 687.4,551.8 690.0,554.0 692.0,556.0 694.7,553.4 698.0,552.0 700.8,551.1 704.0,550.0 707.0,548.9 710.0,549.0 714.0,546.0 713.2,543.3 713.0,540.0 712.5,536.5 711.0,534.0 711.0,530.8 712.0,527.0 709.2,525.2 706.0,524.0 704.0,521.9 701.0,520.0 699.4,517.0 697.0,515.0 695.6,512.0 693.0,509.0 692.5,505.3 692.0,502.0 689.9,499.2 689.0,496.0 688.0,492.9 687.0,490.0 686.6,487.1 686.0,484.0 686.0,481.0"/>
<polyline points="554.0,460.0 554.6,462.8 555.0,466.0 555.0,468.9 554.0,472.0 556.0,475.0 559.2,476.3 563.0,477.0 566.2,478.9 569.0,481.0 571.8,482.2 574.0,483.0 577.0,485.0 580.0,487.0 582.4,488.4 585.0,490.1 588.0,491.0 591.6,491.4 595.0,492.0 598.5,491.0 602.0,491.0 604.2,492.4 607.0,493.0 609.8,492.6 612.0,491.0 616.0,490.0"/>
<polyline points="519.1,398.8 524.0,400.0 526.3,401.6 528.0,404.0 531.3,403.3 534.0,402.0 537.0,401.8 540.0,401.0 542.7,400.4 545.0,399.0 547.9,397.9 551.0,398.0 554.0,398.5 556.0,400.0 555.9,403.0 557.0,406.0 555.0,410.0 557.3,411.9 559.0,414.0 562.0,415.6"/>
<polyline points="562.0,415.6 563.5,413.0 565.0,410.0 568.0,406.0 569.2,402.3 569.0,399.0 569.5,395.9 570.0,393.0 572.0,390.0 574.6,388.2 578.0,387.0 580.9,384.7 584.0,383.0 586.6,381.0 589.0,380.0"/>
<polyline points="589.0,380.0 591.4,378.5 594.0,378.0 596.7,376.8 599.3,376.8 602.0,376.0 605.6,374.6 609.0,373.0 611.2,370.9 614.0,370.0 616.1,368.1 618.5,366.3 621.6,364.0"/>
<polyline points="562.0,415.6 560.8,419.0 561.0,422.0 560.2,424.8 560.0,428.0 557.0,432.0 556.2,435.2 555.0,438.0 553.3,440.5 552.0,444.0 551.3,446.9 550.0,449.0 552.0,451.3 553.0,454.0 553.8,457.1 554.0,460.0"/>
<polyline points="524.4,297.5 527.0,298.6 530.0,298.8 535.0,298.1 538.1,299.4 542.5,300.0 547.5,301.2 551.9,301.9 554.1,304.0 556.2,305.0"/>
<polyline points="535.0,298.1 538.1,295.0 542.5,293.8 547.5,293.1 548.8,296.9 550.0,300.0 551.9,301.9"/>
<polyline points="556.2,305.0 553.8,306.3 551.2,306.9 548.4,307.2 546.2,308.8 541.9,311.2 541.9,313.1 538.8,314.4 535.8,315.0 532.5,315.6 529.1,316.8 526.2,316.9 522.5,318.8 519.4,321.9"/>
<polyline points="519.4,321.9 518.1,317.5 519.4,312.5 520.6,307.5 521.9,302.5 522.8,299.6 524.4,297.5"/>
<polyline points="556.2,305.0 560.0,305.6 563.1,308.1"/>
<polyline points="563.1,308.1 560.0,311.2 557.8,312.6 556.2,315.0 553.1,318.8 551.3,320.5 550.0,323.1"/>
<polyline points="541.9,313.1 544.4,317.5 544.8,320.0 546.2,322.5 547.5,327.5 548.9,330.4 551.2,332.5 553.9,335.0 556.2,337.5 558.3,338.9 560.0,341.2 562.4,342.9 565.0,345.0 567.3,347.0 570.0,348.8 572.5,350.4 575.0,352.5 577.6,355.0"/>
<polyline points="563.1,308.1 567.5,305.6 571.2,303.8 574.7,303.4 577.5,304.4 582.5,305.6 585.2,306.5 588.8,306.9 591.7,307.5 595.0,308.1 598.3,309.3 601.2,309.4 603.1,310.0"/>
<polyline points="603.1,310.0 605.0,313.8 606.9,317.5 607.5,320.0 605.2,323.8 603.1,328.1 601.6,331.9 599.6,335.6 595.2,336.8 591.8,338.0 588.2,339.8 584.8,341.6 581.2,342.4 579.0,343.3 576.0,343.6 573.6,343.2 570.8,343.2 568.4,342.8 565.5,342.8 562.5,341.5 560.0,341.2"/>
<polyline points="550.0,323.1 550.3,326.2 551.9,329.4 554.0,331.0 555.6,333.8 557.8,335.7 560.0,336.9 562.5,341.5"/>
<polyline points="519.4,321.9 516.8,323.8 515.0,326.2 512.6,328.0 511.2,332.5"/>
<polyline points="580.0,268.0 579.8,271.9 579.4,275.0 578.1,280.0 577.4,282.7 575.6,285.0 572.5,288.8 570.0,293.1 570.2,296.2 571.2,299.4 571.2,303.8"/>
<polyline points="598.0,269.0 599.4,273.8 599.7,276.2 601.2,278.8 603.1,283.1 607.5,285.0 611.9,286.9 613.8,291.2 613.8,296.2 612.5,301.2 611.2,304.4 607.5,305.0 605.0,307.5 603.1,310.0"/>
<polyline points="390.6,213.1 392.7,211.1 395.0,208.8 398.0,206.6 400.0,203.8 402.8,201.1 405.0,198.8 407.0,196.6 409.4,195.6 411.2,193.1 414.4,191.2 415.6,195.0 418.8,196.9 421.9,195.0 423.1,198.8 422.5,203.1 423.1,206.2"/>
<polyline points="423.1,206.2 420.0,210.0 416.9,213.8 413.8,217.5 411.2,218.8"/>
<polyline points="411.2,218.8 406.2,218.8 401.2,217.5 396.2,216.9 392.5,216.2 390.6,213.1"/>
<polyline points="423.1,206.2 427.5,203.8 432.5,202.5 437.5,201.2 441.2,200.0 445.0,198.8 447.5,201.2 450.0,205.0 451.9,206.6 453.1,209.4"/>
<polyline points="453.1,209.4 450.0,212.5 447.6,214.6 446.2,217.5 444.5,220.5 442.5,222.5 440.6,225.2 438.8,227.5 437.5,229.9 435.0,231.9 432.5,235.0"/>
<polyline points="432.5,235.0 431.2,232.9 428.8,231.2 427.3,229.2 425.0,227.5 421.2,224.4 417.5,221.9 413.8,219.4 411.2,218.8"/>
<polyline points="427.5,203.8 427.5,200.0 428.1,196.2 428.8,192.5 430.0,188.8 431.2,185.0"/>
<polyline points="431.2,185.0 435.0,186.2 437.9,187.0 440.0,188.8 443.1,191.2 445.0,193.8 447.5,191.9 451.2,193.8 452.9,195.5 455.0,197.5 457.5,200.6 459.3,201.8"/>
<polyline points="396.2,180.0 400.0,181.2 403.8,183.8 404.4,186.9 406.9,188.8 406.2,192.5 405.6,195.6 409.4,195.6"/>
<polyline points="360.0,193.8 363.8,196.2 365.7,198.3 367.5,200.0 368.8,202.6 369.4,205.0 366.2,208.8 363.8,212.5 361.2,216.2 360.6,220.0 365.0,221.9 368.8,223.8 370.5,226.2 372.5,227.5 374.2,230.0 376.2,232.5 378.8,236.2 380.0,237.5"/>
<polyline points="390.6,213.1 386.2,213.8 383.1,215.0 384.4,220.0 385.0,223.8 387.5,228.1"/>
<polyline points="421.2,224.4 418.8,228.1 415.0,229.4 411.9,228.1 411.2,232.5 410.0,236.2 407.5,237.5"/>
<polyline points="380.0,237.5 382.5,233.8 385.0,230.0 387.5,228.1"/>
<polyline points="402.5,228.1 405.0,231.2 405.6,233.8 407.5,237.5 409.4,238.8"/>
<polyline points="415.0,229.4 416.3,232.0 416.9,235.0 416.2,238.8 416.9,242.5 416.2,246.2 419.4,248.1 423.8,247.5 426.2,245.0 426.9,241.2 425.0,238.1 421.9,237.5 421.2,233.8 418.8,233.8 417.5,231.2 415.0,229.4"/>
<polyline points="380.0,237.5 377.5,241.2 377.2,244.1 375.6,246.2 373.1,250.0 372.5,255.0 373.1,260.0 371.2,263.8 368.1,266.9 372.5,268.1 376.2,267.5 380.0,270.0 383.8,273.1 385.8,275.2 387.5,276.9 390.0,281.2 392.5,285.0 396.2,286.9 399.4,286.2 401.2,282.5"/>
<polyline points="410.0,236.2 409.4,238.8 408.1,243.8 406.9,248.8 405.9,251.5 405.6,255.0 405.0,260.0 404.4,262.6 403.1,265.0 402.5,270.0 402.8,273.3 401.9,276.2 402.3,279.2 401.2,282.5"/>
<polyline points="401.2,282.5 401.8,285.3 402.5,288.8 402.4,291.7 403.1,295.0 404.4,300.0 404.9,302.3 406.2,305.0"/>
<polyline points="406.2,305.0 408.1,303.8 409.4,306.9 406.2,310.6 403.8,315.0 402.9,317.5 401.9,320.0 403.1,323.1 406.9,325.0 410.0,328.8 410.6,333.8 409.7,337.0 410.0,340.0 409.4,344.4"/>
<polyline points="435.0,318.1 436.5,324.2 438.1,326.2 440.0,330.0 438.1,333.8 436.2,337.5 435.0,340.0"/>
<polyline points="409.4,344.4 405.0,345.6 402.6,347.1 400.0,347.5 395.6,348.8 396.2,353.8 396.9,358.1 395.0,362.5 393.8,364.4 395.1,366.3 397.5,368.1 401.9,370.6 406.2,371.9 410.6,371.2 413.8,368.8 416.2,365.6 420.0,364.4 423.8,365.6 427.5,365.0 431.2,363.8 435.0,363.1 436.9,361.9"/>
<polyline points="435.0,340.0 435.6,343.8 435.0,347.5 436.2,352.5 437.5,357.5 436.9,361.9"/>
<polyline points="436.9,361.9 438.8,365.0 441.9,367.5 446.2,369.4 450.0,370.6 453.1,370.6"/>
<polyline points="453.1,370.6 457.5,368.1 459.6,366.7 462.5,366.2 467.5,365.0 472.5,363.8 476.9,362.5 480.0,361.2"/>
<polyline points="453.1,370.6 452.5,373.1 454.4,375.6 458.8,377.5 462.5,378.8 467.5,379.4 472.5,380.0 476.2,381.9 480.0,383.8"/>
<polyline points="488.8,320.0 490.0,325.0 489.4,330.0 490.0,335.0 489.4,338.1"/>
<polyline points="489.4,338.1 486.9,342.5 486.2,347.5 484.4,349.6 483.8,352.5 482.5,357.5 480.0,361.2"/>
<polyline points="489.4,338.1 493.8,338.8 498.8,338.8 503.8,337.5 507.5,335.6 511.2,332.5 515.0,329.4 518.1,325.6 519.4,322.5 519.4,321.9"/>
<polyline points="505.0,388.1 506.8,390.4 508.8,392.5 511.2,395.0"/>
<polyline points="505.0,388.1 506.2,385.0 509.0,383.6 511.2,382.5 513.5,381.3 516.2,380.6 518.8,378.1 518.1,373.8 517.5,368.8 518.1,365.0 522.5,362.5 524.6,360.7 527.5,359.4 530.0,359.1 532.5,357.5 534.9,356.7 537.5,355.6 541.9,353.1 545.0,349.4 548.1,346.2 550.0,346.5"/>
<polyline points="480.0,383.8 482.5,384.4 487.5,383.8 492.5,383.1 497.5,383.8 501.2,385.6 505.0,388.1"/>
<polyline points="548.1,346.2 552.5,346.9 556.2,345.0 560.0,341.2"/>
<polyline points="511.2,395.0 513.9,396.5 516.2,398.1 519.1,398.8 521.2,400.0 524.0,400.0"/>
<polyline points="473.1,280.0 477.5,278.8 482.5,277.5 487.5,277.5 492.5,277.2 496.9,276.9"/>
<polyline points="496.9,276.9 498.8,280.6 501.2,283.1 500.0,286.9 498.8,290.6 496.9,294.4 495.6,298.1 495.0,301.9 492.5,305.0 490.0,308.1 487.5,310.0"/>
<polyline points="487.5,310.0 482.5,310.0 477.5,310.6 473.8,309.4 471.2,307.5"/>
<polyline points="471.2,307.5 470.6,303.8 468.1,300.0 466.9,296.9 468.8,293.1 470.6,289.4 471.9,285.0 473.1,280.0"/>
<polyline points="482.5,263.8 481.2,267.5 480.0,272.5 478.1,276.9 477.5,278.8"/>
<polyline points="471.2,307.5 470.6,312.5 468.8,316.9 465.0,319.4 461.7,320.7 458.8,320.6 455.9,320.1 452.5,320.6 449.6,320.7 446.2,320.0 443.1,318.8 440.0,318.8 435.0,318.1"/>
<polyline points="469.0,258.5 470.2,260.5 472.5,261.9 475.5,262.1 478.8,262.5 482.5,263.8 487.5,263.8 492.5,263.1 496.2,261.2 499.7,258.8"/>
<polyline points="496.9,276.9 499.3,275.9 502.5,275.6 507.5,276.2 510.0,276.9 511.9,278.8 513.8,281.9"/>
<polyline points="513.8,281.9 517.5,285.0 519.7,287.4 521.2,290.0 522.9,292.3 525.0,295.0 527.0,298.6"/>
<polyline points="487.5,310.0 488.1,315.0 488.8,320.0 489.4,325.0 488.8,330.0 489.4,335.0 489.4,338.1"/>
<polyline points="501.8,210.0 503.5,213.0 505.8,216.8 507.3,220.5 508.0,225.0 509.1,228.8 509.9,230.6"/>
<polyline points="509.9,230.6 506.5,233.3 502.8,236.3 499.0,239.3 496.0,241.5 493.0,243.8 490.0,246.0 487.0,248.6 484.0,251.6 481.8,254.3 481.0,255.0"/>
<polyline points="496.0,241.5 496.8,238.5 497.5,235.5 497.1,232.5 494.5,232.1 491.5,231.4 488.5,230.6 486.3,231.8 484.8,229.9 483.3,228.4 481.4,228.8 479.9,228.8"/>
<polyline points="479.9,228.8 479.1,225.0 478.8,221.3 479.5,217.5 480.6,214.5 482.3,210.0"/>
<polyline points="479.9,228.8 480.6,231.0 479.7,234.0 478.0,235.9"/>
<polyline points="475.8,210.0 476.1,213.8 476.9,217.5 477.6,221.3 478.0,224.3 476.5,225.8 473.5,224.6 470.5,222.8 467.5,221.3 464.5,219.8 462.3,218.6 460.0,217.9"/>
<polyline points="460.0,233.2 463.8,235.1 467.5,236.3 471.3,235.9 475.0,235.5 478.0,235.9"/>
<polyline points="509.9,230.6 512.5,231.8 515.0,233.0"/>
<polyline points="497.6,191.6 500.3,189.4 504.0,187.5 507.8,186.4 511.5,186.8 515.3,187.5 519.0,189.8 522.0,192.4 523.1,194.3"/>
<polyline points="497.6,191.6 498.8,194.3 501.8,196.9 504.8,199.1 506.3,201.4 504.8,204.0 502.5,205.9 500.3,206.6"/>
<polyline points="500.3,206.6 501.8,210.0"/>
<polyline points="523.1,194.3 521.3,196.1 519.0,198.0 517.9,200.3 519.0,202.5 520.5,204.8 521.6,207.8 521.3,210.8 522.0,213.8 522.8,217.5 523.5,221.3 524.3,225.0 526.0,227.0"/>
<polyline points="478.8,207.8 482.3,210.0 485.3,211.5 488.3,210.8 491.3,208.5 494.3,206.6 497.3,205.9 500.3,206.6"/>
<polyline points="523.1,194.3 525.8,191.3 528.8,188.3 531.8,186.0 534.8,183.8 537.0,182.3 541.0,183.0"/>
<polyline points="451.2,193.8 453.3,195.8 455.5,198.0 457.8,198.8 459.3,201.8 460.0,204.8"/>
<polyline points="460.0,204.8 457.8,206.3 455.5,207.8 453.3,208.9"/>
<polyline points="460.0,204.8 462.3,206.3 464.5,205.5 464.1,202.5 466.0,203.3 468.3,204.8 470.5,203.3 472.8,201.8 475.0,202.5 475.8,205.5 476.5,208.5"/>
<polyline points="476.5,208.5 475.8,210.0"/>
<polyline points="476.5,208.5 478.8,207.8 482.3,210.0"/>
<polyline points="460.0,217.9 458.5,215.6 455.9,215.3 454.0,213.8 453.3,211.5 453.3,208.9"/>
<polyline points="453.3,211.5 450.3,212.6 447.3,214.5 445.8,217.5 445.0,220.5"/>
<polyline points="445.0,220.5 447.3,222.4 450.3,223.9 453.3,225.0 456.3,225.8 460.0,225.8 463.0,224.6 465.3,223.1 467.5,221.3 467.5,221.3"/>
<polyline points="618.0,74.0 620.0,70.0 623.8,71.2 627.5,73.8 631.2,76.2 635.0,78.8 640.0,79.4 642.8,78.4 645.0,77.5 647.9,76.8 650.0,75.6 655.0,75.0 656.2,76.9 652.5,78.8 650.0,81.9"/>
<polyline points="650.0,81.9 652.5,86.2 653.2,88.7 655.0,91.2 656.6,93.5 657.5,96.2 658.8,100.0 661.2,103.1 665.0,103.8 668.8,105.6 671.2,108.1 670.6,111.2 672.5,115.0 675.0,118.1 677.5,121.2 681.2,123.1"/>
<polyline points="620.0,78.0 622.5,80.0 623.8,83.8 627.5,85.0 631.2,86.9 630.0,90.6 632.5,93.8 637.5,94.4 639.4,97.5 638.8,101.9 641.2,105.0 642.5,109.4 642.5,113.1"/>
<polyline points="647.5,60.0 649.4,63.1 653.1,65.6 656.9,63.8 661.2,63.1 663.1,66.2 662.5,70.6 660.6,73.8 662.5,77.5 660.6,81.2 663.1,84.4 667.5,86.9 671.2,90.0 675.0,93.1 677.2,94.9 679.4,96.2 683.1,98.1 686.2,101.2 688.1,104.4"/>
<polyline points="688.1,104.4 690.1,106.1 692.5,108.1 696.2,111.2 699.4,115.0 695.0,115.6 691.2,116.9 687.5,118.8 683.8,121.2 681.2,123.1 677.5,122.5 673.8,121.9 672.5,124.1 670.0,125.6"/>
<polyline points="670.0,125.6 665.0,126.9 660.0,125.6 656.9,125.0 655.0,121.2 651.9,118.1 648.1,115.0 645.6,112.5 642.5,113.1"/>
<polyline points="577.6,355.0 579.8,356.8 582.2,358.9 584.0,361.0 586.5,362.2 588.0,364.1 590.0,366.0 591.5,369.2 593.0,372.0 593.7,375.5 594.0,378.0"/>
<polyline points="427.0,-0.7 428.0,1.7 427.7,4.5 431.5,6.7 436.0,7.5 437.0,13.6"/>
<polyline points="436.0,7.5 440.5,6.0 445.0,6.7 445.7,3.7 443.5,1.5 446.5,-0.7"/>
<polyline points="419.5,-0.7 421.2,1.9 421.7,4.5 423.2,7.5 421.7,9.7 419.8,11.4"/>
<polyline points="415.7,12.0 418.0,10.5 419.8,11.4 418.0,13.5 415.7,12.0"/>
<polyline points="421.7,9.7 425.5,12.0 428.8,15.4"/>
<polyline points="428.8,15.4 432.2,13.5 434.0,14.6"/>
<polyline points="410.0,95.5 405.0,96.9 401.2,99.4 397.5,102.5 395.5,104.5 393.8,106.2 391.2,110.0 389.4,113.8 388.1,117.5 386.9,121.2 385.6,126.2 384.4,131.2 383.1,136.2 382.5,139.4 380.4,141.1 378.8,143.8 375.0,146.9 371.2,149.4 367.5,151.2 365.0,153.8 362.5,156.2 361.2,160.0 360.0,162.5"/>
<polyline points="401.2,99.4 405.0,101.2 408.1,103.8 409.4,106.9 408.8,110.0 407.5,112.5"/>
<polyline points="407.5,112.5 403.8,113.1 400.0,113.8 396.2,114.4 393.1,115.6 390.0,118.1 387.5,120.6 386.9,121.2"/>
<polyline points="427.4,108.8 425.6,108.8 421.2,110.0 417.5,111.2 413.8,112.5 410.0,113.1 407.5,112.5"/>
<polyline points="400.0,113.8 400.6,117.5 401.9,120.6 404.4,123.1 406.2,125.0 406.9,128.8 408.1,131.2 411.2,133.8 414.4,135.0 417.5,133.8 420.0,133.1 421.2,135.6 425.0,134.4 428.8,132.5 432.5,130.6 436.2,129.4 440.0,128.1 443.8,127.5 447.5,126.2 451.2,125.0 455.0,123.8 457.5,120.0"/>
<polyline points="431.0,116.0 435.0,114.8 440.0,115.0 445.0,114.0 450.0,114.5 453.8,116.0 456.0,118.1 457.5,120.0"/>
<polyline points="457.5,120.0 460.0,118.5 462.5,116.0 464.5,113.9"/>
<polyline points="411.2,133.8 408.8,136.9 406.2,139.4 404.4,142.5 401.9,145.0 400.0,147.5 398.1,149.4"/>
<polyline points="398.1,149.4 393.8,148.8 390.0,148.1 387.5,146.9 386.2,143.8 384.4,141.2 382.5,139.4"/>
<polyline points="428.8,132.5 427.5,137.5 426.9,140.0 425.0,142.5 423.8,145.0 421.2,146.9 418.8,148.8 416.2,150.0 413.8,151.2 410.0,150.6 406.2,149.4 402.5,148.1 400.0,147.5"/>
<polyline points="427.5,137.5 429.4,141.2 431.2,145.0 431.9,146.9"/>
<polyline points="431.9,146.9 436.2,145.0 440.0,143.1 443.1,144.4 446.2,142.5 450.0,140.6 453.8,138.8 457.5,136.9 460.0,135.6"/>
<polyline points="431.9,146.9 431.2,150.0 430.6,153.8 433.1,155.0 437.5,155.0 441.2,153.8 445.0,152.5 450.0,151.2 452.5,150.6 455.0,149.4 457.4,147.8 460.0,148.1"/>
<polyline points="400.0,147.5 402.5,150.0 406.2,151.9 410.0,153.1 413.8,154.4 417.5,155.2"/>
<polyline points="400.0,147.5 403.1,151.5 407.5,153.5 409.8,153.8 413.8,154.4"/>
<polyline points="398.1,149.4 400.0,152.5 401.9,156.2 403.8,160.0 406.2,163.8 407.5,165.0"/>
<polyline points="430.6,153.8 428.8,157.5 427.5,161.2 426.2,163.8"/>
<polyline points="382.5,139.4 385.0,143.8 386.9,147.5 385.0,150.0 383.8,153.1 385.0,156.9"/>
<polyline points="385.0,156.9 381.2,158.1 378.8,160.0 379.4,163.1 377.5,165.0"/>
<polyline points="365.0,153.8 363.8,157.5 366.2,160.6 370.0,161.2 373.8,162.5 376.2,165.0"/>
<polyline points="360.0,162.5 358.8,167.5 356.2,170.6 352.5,173.8 349.4,176.2 348.1,178.8 349.4,181.9 351.9,184.4 353.8,187.5 355.0,190.0 357.5,192.5 360.0,193.8"/>
<polyline points="377.5,165.0 376.2,168.1"/>
<polyline points="376.2,165.0 376.2,168.1"/>
<polyline points="376.2,168.1 378.8,170.6 382.5,172.5 385.0,175.6 388.8,176.9 392.5,178.1 396.2,180.0"/>
<polyline points="407.5,165.0 411.2,166.9 415.0,168.8 418.8,170.6 421.2,171.2 424.4,173.8 427.5,177.5 429.3,180.0 431.2,181.2 431.2,185.0"/>
<polyline points="426.2,163.8 423.8,167.5 421.2,171.2"/>
<polyline points="460.0,135.6 463.8,133.1 466.9,130.6"/>
<polyline points="462.5,116.0 463.4,119.6 463.8,122.5 466.2,125.6 466.9,130.6 468.2,133.3 470.0,135.0 472.5,138.8 474.0,140.9 475.6,143.1 478.8,146.2 482.5,148.1 486.2,148.8 490.0,148.1 494.4,148.8"/>
<polyline points="460.0,148.1 462.0,149.9 463.8,151.9 467.5,154.4 471.2,157.5 473.8,159.4 477.5,158.1 481.2,156.2 483.8,153.8 487.5,151.2 491.2,150.0 494.4,148.8"/>
<polyline points="494.4,148.8 495.0,152.5 493.1,155.6 490.6,158.8 488.1,161.9 485.6,164.4 483.8,167.5 480.0,170.0 476.2,171.9 472.5,173.1 468.8,174.4 465.0,175.0 461.2,176.2 457.5,176.9 453.8,176.2 450.0,176.9 446.9,178.8 444.4,181.9 443.1,185.6 440.0,188.8"/>
<polyline points="494.4,148.8 498.8,150.6 500.6,154.4 501.9,158.1 505.0,160.6 510.0,161.9 515.0,162.5 520.0,162.5"/>
<polyline points="499.0,239.3 497.2,243.9 496.4,246.8 495.6,250.0 496.5,253.3 496.2,256.2 496.9,260.6"/>
<polyline points="496.9,260.6 499.7,258.8 502.5,258.1 504.5,256.6 507.1,255.1 510.0,254.4 512.3,252.2 515.0,251.0 517.5,250.0 523.4,245.1"/>
<polyline points="481.0,255.0 478.8,262.5"/>
<polyline points="564.4,261.5 560.0,263.8 557.8,265.6 556.2,267.5 554.4,269.6 552.5,271.2 550.0,268.8 547.5,265.6 545.0,262.5 541.2,261.2 537.5,262.5 533.8,263.8 530.0,265.0 526.2,266.9 522.5,268.8 518.8,271.2 515.0,273.8 511.2,277.2"/>
<polyline points="510.0,276.2 511.2,277.2 512.5,280.0 514.3,281.7 516.2,283.8 517.6,285.7 520.1,287.7 521.2,290.0 523.3,293.0 526.2,295.6 530.0,298.8"/>
<polyline points="438.8,227.5 443.5,229.0 447.2,230.0 451.0,229.5 453.2,228.0 456.3,225.8"/>
<polyline points="453.2,228.0 455.5,231.0 458.5,233.2 462.0,236.0"/>
<polyline points="462.0,236.0 460.0,233.2"/>
<polyline points="462.0,236.0 459.0,239.5 456.0,243.0 453.5,246.0"/>
<polyline points="432.5,235.0 433.0,238.0 436.0,240.0 440.0,242.5 442.9,243.3 445.0,244.5 449.0,245.5 453.5,246.0 457.0,248.5 459.3,250.1 461.0,252.0 463.0,253.9 465.0,255.5 469.0,258.5 471.7,259.9 474.0,261.0 478.5,262.0"/>
<polyline points="478.0,235.9 478.5,241.0 477.0,244.0 476.0,246.5 479.5,250.0 476.0,252.5 473.0,254.5 474.0,257.0 477.0,258.5 479.0,260.0 478.5,262.0"/>
</g>
<g font-family="'Liberation Sans', Arial, sans-serif" font-size="10.5" text-anchor="middle">
<text x="456.0" y="10.7" fill="#505050">La</text>
<text x="468.0" y="22.7" fill="#505050">Wo</text>
<text x="433.0" y="47.7" fill="#505050">Lu</text>
<text x="491.0" y="91.7" fill="#505050">Do</text>
<text x="452.0" y="99.7" fill="#505050">Ho</text>
<text x="399.0" y="112.7" fill="#505050">Mä</text>
<text x="534.0" y="20.7" fill="#505050">Al</text>
<text x="564.0" y="9.7" fill="#505050">Lg</text>
<text x="578.0" y="25.7" fill="#505050">Li</text>
<text x="633.0" y="15.7" fill="#505050">Hi</text>
<text x="619.0" y="55.7" fill="#505050">Eg</text>
<text x="662.0" y="55.7" fill="#505050">Sg</text>
<text x="532.0" y="60.7" fill="#505050">Sb</text>
<text x="569.0" y="66.7" fill="#505050">Ab</text>
<text x="550.0" y="90.7" fill="#505050">Re</text>
<text x="606.0" y="97.7" fill="#505050">Bi</text>
<text x="650.0" y="105.7" fill="#505050">Be</text>
<text x="597.0" y="116.7" fill="#505050">Sn</text>
<text x="503.0" y="17.2" fill="#505050">Bs</text>
<text x="548.0" y="129.7" fill="#505050">Ma</text>
<text x="554.0" y="162.7" fill="#505050">Dm</text>
<text x="606.0" y="150.7" fill="#505050">Au</text>
<text x="651.0" y="157.7" fill="#505050">Sp</text>
<text x="573.0" y="189.7" fill="#505050">Fo</text>
<text x="719.0" y="131.7" fill="#505050">Mi</text>
<text x="680.0" y="198.7" fill="#505050">Sk</text>
<text x="724.0" y="192.7" fill="#505050">Wa</text>
<text x="395.0" y="137.7" fill="#505050">Ko</text>
<text x="415.0" y="144.7" fill="#505050">Kl</text>
<text x="447.0" y="138.7" fill="#505050">Fx</text>
<text x="462.0" y="144.7" fill="#505050">Vi</text>
<text x="377.0" y="157.7" fill="#505050">Mei</text>
<text x="420.0" y="163.7" fill="#505050">Rö</text>
<text x="457.0" y="166.7" fill="#505050">Zw</text>
<text x="405.0" y="178.7" fill="#505050">Rw</text>
<text x="489.0" y="187.7" fill="#505050">Lt</text>
<text x="377.0" y="197.7" fill="#505050">Fk</text>
<text x="435.0" y="197.7" fill="#4a4a4a" stroke="#ffffff" stroke-width="1.6" stroke-opacity="0.6" paint-order="stroke" stroke-linejoin="round">Üb</text>
<text x="427.0" y="127.7" fill="#505050">Gz</text>
<text x="408.0" y="210.7" fill="#4a4266" stroke="#ffffff" stroke-width="1.9" stroke-opacity="0.78" paint-order="stroke" stroke-linejoin="round">Gö</text>
<text x="433.0" y="219.7" fill="#4a4266" stroke="#ffffff" stroke-width="1.9" stroke-opacity="0.78" paint-order="stroke" stroke-linejoin="round">Nü</text>
<text x="393.0" y="251.7" fill="#4a4266" stroke="#ffffff" stroke-width="1.9" stroke-opacity="0.78" paint-order="stroke" stroke-linejoin="round">Fr</text>
<text x="447.0" y="241.2" fill="#4a4266" stroke="#ffffff" stroke-width="1.9" stroke-opacity="0.78" paint-order="stroke" stroke-linejoin="round">Sc</text>
<text x="456.0" y="225.7" fill="#4a4266" stroke="#ffffff" stroke-width="1.9" stroke-opacity="0.78" paint-order="stroke" stroke-linejoin="round">Dü</text>
<text x="469.0" y="250.7" fill="#4a4a4a" stroke="#ffffff" stroke-width="1.6" stroke-opacity="0.6" paint-order="stroke" stroke-linejoin="round">Bd</text>
<text x="486.0" y="246.7" fill="#4a4266" stroke="#ffffff" stroke-width="1.9" stroke-opacity="0.78" paint-order="stroke" stroke-linejoin="round">Th</text>
<text x="495.0" y="226.2" fill="#4a4266" stroke="#ffffff" stroke-width="1.9" stroke-opacity="0.78" paint-order="stroke" stroke-linejoin="round">Tb</text>
<text x="501.0" y="252.7" fill="#4a4266" stroke="#ffffff" stroke-width="1.9" stroke-opacity="0.78" paint-order="stroke" stroke-linejoin="round">Ld</text>
<text x="520.0" y="265.7" fill="#4a4266" stroke="#ffffff" stroke-width="1.9" stroke-opacity="0.78" paint-order="stroke" stroke-linejoin="round">Nü</text>
<text x="548.0" y="285.7" fill="#4a4266" stroke="#ffffff" stroke-width="1.9" stroke-opacity="0.78" paint-order="stroke" stroke-linejoin="round">Bz</text>
<text x="513.0" y="211.7" fill="#505050">Ge</text>
<text x="536.0" y="209.2" fill="#4a4266" stroke="#ffffff" stroke-width="1.9" stroke-opacity="0.78" paint-order="stroke" stroke-linejoin="round">Bl</text>
<text x="612.0" y="219.7" fill="#505050">So</text>
<text x="567.0" y="249.7" fill="#505050">Ra</text>
<text x="713.0" y="243.7" fill="#4a4266" stroke="#ffffff" stroke-width="1.9" stroke-opacity="0.78" paint-order="stroke" stroke-linejoin="round">Le</text>
<text x="648.0" y="284.7" fill="#4a4a4a" stroke="#ffffff" stroke-width="1.6" stroke-opacity="0.6" paint-order="stroke" stroke-linejoin="round">Da</text>
<text x="591.0" y="295.2" fill="#4a4a4a" stroke="#ffffff" stroke-width="1.6" stroke-opacity="0.6" paint-order="stroke" stroke-linejoin="round">In</text>
<text x="577.5" y="327.7" fill="#4a4266" stroke="#ffffff" stroke-width="1.9" stroke-opacity="0.78" paint-order="stroke" stroke-linejoin="round">Ba</text>
<text x="533.0" y="311.7" fill="#4a4a4a" stroke="#ffffff" stroke-width="1.6" stroke-opacity="0.6" paint-order="stroke" stroke-linejoin="round">Lr</text>
<text x="551.0" y="317.7" fill="#4a4a4a" stroke="#ffffff" stroke-width="1.6" stroke-opacity="0.6" paint-order="stroke" stroke-linejoin="round">Ae</text>
<text x="433.0" y="300.7" fill="#4a4266" stroke="#ffffff" stroke-width="1.9" stroke-opacity="0.78" paint-order="stroke" stroke-linejoin="round">Ne</text>
<text x="462.5" y="344.7" fill="#4a4a4a" stroke="#ffffff" stroke-width="1.6" stroke-opacity="0.6" paint-order="stroke" stroke-linejoin="round">Bn</text>
<text x="484.0" y="297.7" fill="#4a4a4a" stroke="#ffffff" stroke-width="1.6" stroke-opacity="0.6" paint-order="stroke" stroke-linejoin="round">Bb</text>
<text x="506.0" y="311.7" fill="#4a4a4a" stroke="#ffffff" stroke-width="1.6" stroke-opacity="0.6" paint-order="stroke" stroke-linejoin="round">Bü</text>
<text x="510.0" y="357.2" fill="#505050">Va</text>
<text x="551.0" y="381.7" fill="#4a4266" stroke="#ffffff" stroke-width="1.9" stroke-opacity="0.78" paint-order="stroke" stroke-linejoin="round">Ts</text>
<text x="596.0" y="358.7" fill="#4a4266" stroke="#ffffff" stroke-width="1.9" stroke-opacity="0.78" paint-order="stroke" stroke-linejoin="round">Sr</text>
<text x="658.0" y="360.7" fill="#4a4266" stroke="#ffffff" stroke-width="1.9" stroke-opacity="0.78" paint-order="stroke" stroke-linejoin="round">Si</text>
<text x="703.0" y="314.7" fill="#505050">Ks</text>
<text x="600.0" y="432.7" fill="#505050">Gk</text>
<text x="669.0" y="468.7" fill="#505050">Gs</text>
</g>
</svg>
</div>
<div id="legend">
  <div class="ttl">Einkommen und Grundstückspreise</div>
  <div class="lo">niedrig</div>
  <div class="hi">hoch</div>
  <div id="grid">
    <div style="left:0;top:0;background:#e0e0e0"></div>
    <div style="left:23.1px;top:0;background:#c9cbe7"></div>
    <div style="left:46.2px;top:0;background:#aaade2"></div>
    <div style="left:69.3px;top:0;background:#898ddf"></div>
    <div style="left:92.4px;top:0;background:#6a6dd0"></div>
    <div style="left:115.5px;top:0;background:#5054c2"></div>
    <div style="left:0;top:22.2px;background:#eec5c2"></div>
    <div style="left:23.1px;top:22.2px;background:#d9bcdf"></div>
    <div style="left:46.2px;top:22.2px;background:#bba8e0"></div>
    <div style="left:69.3px;top:22.2px;background:#9c8cdd"></div>
    <div style="left:92.4px;top:22.2px;background:#7b6cd2"></div>
    <div style="left:0;top:44.4px;background:#e39a95"></div>
    <div style="left:23.1px;top:44.4px;background:#d48acb"></div>
    <div style="left:46.2px;top:44.4px;background:#b57cdb"></div>
    <div style="left:69.3px;top:44.4px;background:#9158d8"></div>
    <div style="left:92.4px;top:44.4px;background:#6e3cc0"></div>
    <div style="left:0;top:66.6px;background:#d96f6b;height:22.3px"></div>
    <div style="left:23.1px;top:66.6px;background:#bb52a8;height:22.3px"></div>
    <div style="left:46.2px;top:66.6px;background:#a052d5;height:22.3px"></div>
    <div style="left:69.3px;top:66.6px;background:#7b45cf;height:22.3px"></div>
    <div style="left:92.4px;top:66.6px;background:#6239b3;height:22.3px"></div>
    <span style="left:0;top:0;color:#111;font-weight:bold">1-1</span>
    <span style="left:115.5px;top:0;color:#fff">6-1</span>
    <span style="left:0;top:66.6px;color:#fff">1-4</span>
    <span style="left:92.4px;top:66.6px;color:#fff">5-4</span>
  </div>
  <div class="note">
    <div style="right:103px;top:1.8px">Die Farbkombination entspricht den</div>
    <div style="right:63px;top:12.9px">Einkommens- und Grundstückspreiskategorien</div>
    <div style="left:123.6px;top:24.3px">der Zählsprengel.</div>
  </div>
</div>
</body>
</html>
